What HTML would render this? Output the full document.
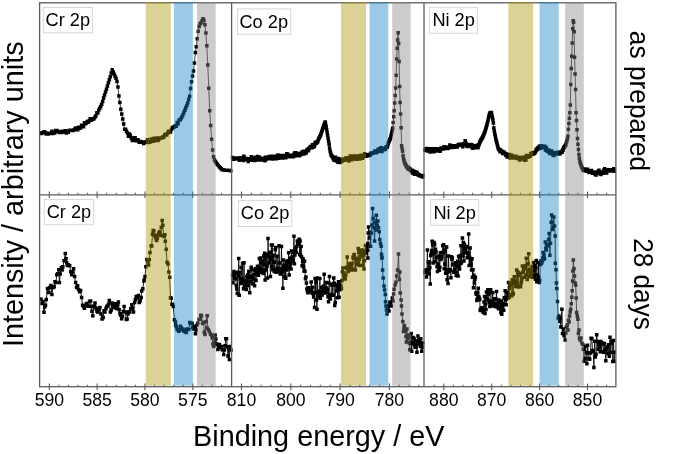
<!DOCTYPE html>
<html><head><meta charset="utf-8"><title>XPS spectra</title>
<style>html,body{margin:0;padding:0;background:#fff;width:685px;height:454px;overflow:hidden;position:relative}
svg text{font-family:"Liberation Sans",sans-serif;fill:#000}
svg{will-change:transform}</style></head>
<body>
<svg width="685" height="454" viewBox="0 0 685 454" style="position:absolute;left:0;top:0">
<rect width="685" height="454" fill="#fff"/>
<defs>
<clipPath id="cT"><rect x="39.6" y="2.8" width="576.3" height="192.0"/></clipPath>
<clipPath id="cB"><rect x="39.6" y="194.8" width="576.3" height="191.9"/></clipPath>
</defs>
<g clip-path="url(#cT)"><path d="M40.50,132.94 L41.46,133.61 L42.41,132.76 L43.37,132.57 L44.32,131.85 L45.28,132.51 L46.24,133.94 L47.19,133.34 L48.15,134.05 L49.10,133.36 L50.06,133.58 L51.02,133.18 L51.97,131.14 L52.93,133.47 L53.88,132.93 L54.84,132.73 L55.80,130.51 L56.75,130.46 L57.71,131.31 L58.66,131.73 L59.62,132.51 L60.58,132.07 L61.53,132.51 L62.49,131.21 L63.44,132.03 L64.40,131.98 L65.36,130.80 L66.31,133.09 L67.27,131.83 L68.22,132.37 L69.18,130.46 L70.14,130.21 L71.09,130.28 L72.05,130.20 L73.00,130.61 L73.96,129.90 L74.92,128.88 L75.87,128.08 L76.83,128.23 L77.78,129.69 L78.74,127.37 L79.70,128.14 L80.65,127.77 L81.61,125.18 L82.56,126.05 L83.52,126.64 L84.48,122.65 L85.43,123.63 L86.39,123.08 L87.34,121.61 L88.30,122.16 L89.26,120.83 L90.21,118.68 L91.17,120.27 L92.12,119.41 L93.08,118.99 L94.04,118.79 L94.99,117.01 L95.95,115.71 L96.90,112.64 L97.86,112.89 L98.82,110.00 L99.77,108.27 L100.73,106.47 L101.68,104.22 L102.64,101.41 L103.60,97.96 L104.55,94.88 L105.51,92.08 L106.46,89.28 L107.42,86.12 L108.38,82.67 L109.33,79.64 L110.29,76.82 L111.24,73.11 L112.20,69.64 L113.16,71.96 L114.11,74.24 L115.07,76.28 L116.02,78.32 L116.98,81.61 L117.94,87.07 L118.89,96.05 L119.85,102.60 L120.80,109.32 L121.76,114.10 L122.72,118.88 L123.67,123.95 L124.63,129.34 L125.58,129.37 L126.54,131.14 L127.50,133.06 L128.45,136.36 L129.41,134.08 L130.36,135.61 L131.32,138.26 L132.28,140.42 L133.23,139.93 L134.19,137.81 L135.14,137.68 L136.10,140.78 L137.06,139.90 L138.01,139.73 L138.97,142.04 L139.92,142.36 L140.88,141.61 L141.84,141.88 L142.79,142.26 L143.75,143.39 L144.70,142.23 L145.66,141.95 L146.62,141.80 L147.57,139.63 L148.53,142.48 L149.48,142.16 L150.44,141.73 L151.40,138.96 L152.35,140.02 L153.31,141.21 L154.26,138.27 L155.22,139.60 L156.18,140.52 L157.13,137.89 L158.09,140.49 L159.04,139.05 L160.00,137.96 L160.96,138.05 L161.91,137.90 L162.87,136.78 L163.82,137.23 L164.78,134.83 L165.74,134.32 L166.69,134.92 L167.65,133.05 L168.60,131.29 L169.56,132.33 L170.52,132.08 L171.47,129.40 L172.43,127.58 L173.38,127.84 L174.34,126.84 L175.30,125.71 L176.25,126.23 L177.21,122.62 L178.16,123.72 L179.12,120.01 L180.08,120.10 L181.03,118.49 L181.99,116.66 L182.94,114.72 L183.90,112.44 L184.86,110.16 L185.81,107.87 L186.77,105.56 L187.72,103.00 L188.68,99.56 L189.64,96.13 L190.59,88.44 L191.55,81.78 L192.50,76.08 L193.46,70.93 L194.42,62.94 L195.37,52.56 L196.33,46.86 L197.28,38.66 L198.24,31.14 L199.20,26.48 L200.15,23.72 L201.11,22.76 L202.06,20.66 L203.02,18.64 L203.98,20.40 L204.93,24.68 L205.89,32.93 L206.84,45.83 L207.80,65.10 L208.76,88.17 L209.71,110.87 L210.67,125.58 L211.62,139.17 L212.58,150.03 L213.54,156.75 L214.49,159.92 L215.45,161.47 L216.40,162.91 L217.36,164.34 L218.32,165.58 L219.27,166.75 L220.23,167.83 L221.18,168.78 L222.14,169.63 L223.10,169.83 L224.05,170.04 L225.01,170.20 L225.96,170.20 L226.92,170.20 L227.88,170.27 L228.83,170.44 L229.79,170.61 L230.74,170.70" fill="none" stroke="#000" stroke-width="0.75" stroke-linejoin="round"/><path d="M38.75,131.19h3.50v3.50h-3.50zM39.71,131.86h3.50v3.50h-3.50zM40.66,131.01h3.50v3.50h-3.50zM41.62,130.82h3.50v3.50h-3.50zM42.57,130.10h3.50v3.50h-3.50zM43.53,130.76h3.50v3.50h-3.50zM44.49,132.19h3.50v3.50h-3.50zM45.44,131.59h3.50v3.50h-3.50zM46.40,132.30h3.50v3.50h-3.50zM47.35,131.61h3.50v3.50h-3.50zM48.31,131.83h3.50v3.50h-3.50zM49.27,131.43h3.50v3.50h-3.50zM50.22,129.39h3.50v3.50h-3.50zM51.18,131.72h3.50v3.50h-3.50zM52.13,131.18h3.50v3.50h-3.50zM53.09,130.98h3.50v3.50h-3.50zM54.05,128.76h3.50v3.50h-3.50zM55.00,128.71h3.50v3.50h-3.50zM55.96,129.56h3.50v3.50h-3.50zM56.91,129.98h3.50v3.50h-3.50zM57.87,130.76h3.50v3.50h-3.50zM58.83,130.32h3.50v3.50h-3.50zM59.78,130.76h3.50v3.50h-3.50zM60.74,129.46h3.50v3.50h-3.50zM61.69,130.28h3.50v3.50h-3.50zM62.65,130.23h3.50v3.50h-3.50zM63.61,129.05h3.50v3.50h-3.50zM64.56,131.34h3.50v3.50h-3.50zM65.52,130.08h3.50v3.50h-3.50zM66.47,130.62h3.50v3.50h-3.50zM67.43,128.71h3.50v3.50h-3.50zM68.39,128.46h3.50v3.50h-3.50zM69.34,128.53h3.50v3.50h-3.50zM70.30,128.45h3.50v3.50h-3.50zM71.25,128.86h3.50v3.50h-3.50zM72.21,128.15h3.50v3.50h-3.50zM73.17,127.13h3.50v3.50h-3.50zM74.12,126.33h3.50v3.50h-3.50zM75.08,126.48h3.50v3.50h-3.50zM76.03,127.94h3.50v3.50h-3.50zM76.99,125.62h3.50v3.50h-3.50zM77.95,126.39h3.50v3.50h-3.50zM78.90,126.02h3.50v3.50h-3.50zM79.86,123.43h3.50v3.50h-3.50zM80.81,124.30h3.50v3.50h-3.50zM81.77,124.89h3.50v3.50h-3.50zM82.73,120.90h3.50v3.50h-3.50zM83.68,121.88h3.50v3.50h-3.50zM84.64,121.33h3.50v3.50h-3.50zM85.59,119.86h3.50v3.50h-3.50zM86.55,120.41h3.50v3.50h-3.50zM87.51,119.08h3.50v3.50h-3.50zM88.46,116.93h3.50v3.50h-3.50zM89.42,118.52h3.50v3.50h-3.50zM90.37,117.66h3.50v3.50h-3.50zM91.33,117.24h3.50v3.50h-3.50zM92.29,117.04h3.50v3.50h-3.50zM93.24,115.26h3.50v3.50h-3.50zM94.20,113.96h3.50v3.50h-3.50zM95.15,110.89h3.50v3.50h-3.50zM96.11,111.14h3.50v3.50h-3.50zM97.07,108.25h3.50v3.50h-3.50zM98.02,106.52h3.50v3.50h-3.50zM98.98,104.72h3.50v3.50h-3.50zM99.93,102.47h3.50v3.50h-3.50zM100.89,99.66h3.50v3.50h-3.50zM101.85,96.21h3.50v3.50h-3.50zM102.80,93.13h3.50v3.50h-3.50zM103.76,90.33h3.50v3.50h-3.50zM104.71,87.53h3.50v3.50h-3.50zM105.67,84.37h3.50v3.50h-3.50zM106.63,80.92h3.50v3.50h-3.50zM107.58,77.89h3.50v3.50h-3.50zM108.54,75.07h3.50v3.50h-3.50zM109.49,71.36h3.50v3.50h-3.50zM110.45,67.89h3.50v3.50h-3.50zM111.41,70.21h3.50v3.50h-3.50zM112.36,72.49h3.50v3.50h-3.50zM113.32,74.53h3.50v3.50h-3.50zM114.27,76.57h3.50v3.50h-3.50zM115.23,79.86h3.50v3.50h-3.50zM116.19,85.32h3.50v3.50h-3.50zM117.14,94.30h3.50v3.50h-3.50zM118.10,100.85h3.50v3.50h-3.50zM119.05,107.57h3.50v3.50h-3.50zM120.01,112.35h3.50v3.50h-3.50zM120.97,117.13h3.50v3.50h-3.50zM121.92,122.20h3.50v3.50h-3.50zM122.88,127.59h3.50v3.50h-3.50zM123.83,127.62h3.50v3.50h-3.50zM124.79,129.39h3.50v3.50h-3.50zM125.75,131.31h3.50v3.50h-3.50zM126.70,134.61h3.50v3.50h-3.50zM127.66,132.33h3.50v3.50h-3.50zM128.61,133.86h3.50v3.50h-3.50zM129.57,136.51h3.50v3.50h-3.50zM130.53,138.67h3.50v3.50h-3.50zM131.48,138.18h3.50v3.50h-3.50zM132.44,136.06h3.50v3.50h-3.50zM133.39,135.93h3.50v3.50h-3.50zM134.35,139.03h3.50v3.50h-3.50zM135.31,138.15h3.50v3.50h-3.50zM136.26,137.98h3.50v3.50h-3.50zM137.22,140.29h3.50v3.50h-3.50zM138.17,140.61h3.50v3.50h-3.50zM139.13,139.86h3.50v3.50h-3.50zM140.09,140.13h3.50v3.50h-3.50zM141.04,140.51h3.50v3.50h-3.50zM142.00,141.64h3.50v3.50h-3.50zM142.95,140.48h3.50v3.50h-3.50zM143.91,140.20h3.50v3.50h-3.50zM144.87,140.05h3.50v3.50h-3.50zM145.82,137.88h3.50v3.50h-3.50zM146.78,140.73h3.50v3.50h-3.50zM147.73,140.41h3.50v3.50h-3.50zM148.69,139.98h3.50v3.50h-3.50zM149.65,137.21h3.50v3.50h-3.50zM150.60,138.27h3.50v3.50h-3.50zM151.56,139.46h3.50v3.50h-3.50zM152.51,136.52h3.50v3.50h-3.50zM153.47,137.85h3.50v3.50h-3.50zM154.43,138.77h3.50v3.50h-3.50zM155.38,136.14h3.50v3.50h-3.50zM156.34,138.74h3.50v3.50h-3.50zM157.29,137.30h3.50v3.50h-3.50zM158.25,136.21h3.50v3.50h-3.50zM159.21,136.30h3.50v3.50h-3.50zM160.16,136.15h3.50v3.50h-3.50zM161.12,135.03h3.50v3.50h-3.50zM162.07,135.48h3.50v3.50h-3.50zM163.03,133.08h3.50v3.50h-3.50zM163.99,132.57h3.50v3.50h-3.50zM164.94,133.17h3.50v3.50h-3.50zM165.90,131.30h3.50v3.50h-3.50zM166.85,129.54h3.50v3.50h-3.50zM167.81,130.58h3.50v3.50h-3.50zM168.77,130.33h3.50v3.50h-3.50zM169.72,127.65h3.50v3.50h-3.50zM170.68,125.83h3.50v3.50h-3.50zM171.63,126.09h3.50v3.50h-3.50zM172.59,125.09h3.50v3.50h-3.50zM173.55,123.96h3.50v3.50h-3.50zM174.50,124.48h3.50v3.50h-3.50zM175.46,120.87h3.50v3.50h-3.50zM176.41,121.97h3.50v3.50h-3.50zM177.37,118.26h3.50v3.50h-3.50zM178.33,118.35h3.50v3.50h-3.50zM179.28,116.74h3.50v3.50h-3.50zM180.24,114.91h3.50v3.50h-3.50zM181.19,112.97h3.50v3.50h-3.50zM182.15,110.69h3.50v3.50h-3.50zM183.11,108.41h3.50v3.50h-3.50zM184.06,106.12h3.50v3.50h-3.50zM185.02,103.81h3.50v3.50h-3.50zM185.97,101.25h3.50v3.50h-3.50zM186.93,97.81h3.50v3.50h-3.50zM187.89,94.38h3.50v3.50h-3.50zM188.84,86.69h3.50v3.50h-3.50zM189.80,80.03h3.50v3.50h-3.50zM190.75,74.33h3.50v3.50h-3.50zM191.71,69.18h3.50v3.50h-3.50zM192.67,61.19h3.50v3.50h-3.50zM193.62,50.81h3.50v3.50h-3.50zM194.58,45.11h3.50v3.50h-3.50zM195.53,36.91h3.50v3.50h-3.50zM196.49,29.39h3.50v3.50h-3.50zM197.45,24.73h3.50v3.50h-3.50zM198.40,21.97h3.50v3.50h-3.50zM199.36,21.01h3.50v3.50h-3.50zM200.31,18.91h3.50v3.50h-3.50zM201.27,16.89h3.50v3.50h-3.50zM202.23,18.65h3.50v3.50h-3.50zM203.18,22.93h3.50v3.50h-3.50zM204.14,31.18h3.50v3.50h-3.50zM205.09,44.08h3.50v3.50h-3.50zM206.05,63.35h3.50v3.50h-3.50zM207.01,86.42h3.50v3.50h-3.50zM207.96,109.12h3.50v3.50h-3.50zM208.92,123.83h3.50v3.50h-3.50zM209.87,137.42h3.50v3.50h-3.50zM210.83,148.28h3.50v3.50h-3.50zM211.79,155.00h3.50v3.50h-3.50zM212.74,158.17h3.50v3.50h-3.50zM213.70,159.72h3.50v3.50h-3.50zM214.65,161.16h3.50v3.50h-3.50zM215.61,162.59h3.50v3.50h-3.50zM216.57,163.83h3.50v3.50h-3.50zM217.52,165.00h3.50v3.50h-3.50zM218.48,166.08h3.50v3.50h-3.50zM219.43,167.03h3.50v3.50h-3.50zM220.39,167.88h3.50v3.50h-3.50zM221.35,168.08h3.50v3.50h-3.50zM222.30,168.29h3.50v3.50h-3.50zM223.26,168.45h3.50v3.50h-3.50zM224.21,168.45h3.50v3.50h-3.50zM225.17,168.45h3.50v3.50h-3.50zM226.13,168.52h3.50v3.50h-3.50zM227.08,168.69h3.50v3.50h-3.50zM228.04,168.86h3.50v3.50h-3.50zM228.99,168.95h3.50v3.50h-3.50z" fill="#000"/><path d="M232.50,157.41 L232.99,158.83 L233.49,159.33 L233.98,159.06 L234.47,158.55 L234.96,158.34 L235.46,158.35 L235.95,158.78 L236.44,158.02 L236.94,158.48 L237.43,158.77 L237.92,158.20 L238.42,158.96 L238.91,158.77 L239.40,160.21 L239.89,158.52 L240.39,157.80 L240.88,157.91 L241.37,158.33 L241.87,159.33 L242.36,158.13 L242.85,158.92 L243.35,160.43 L243.84,156.25 L244.33,157.59 L244.82,159.02 L245.32,159.24 L245.81,159.14 L246.30,158.53 L246.80,159.68 L247.29,159.37 L247.78,158.63 L248.28,161.61 L248.77,159.63 L249.26,158.74 L249.75,159.17 L250.25,159.03 L250.74,159.17 L251.23,156.81 L251.73,158.71 L252.22,160.18 L252.71,157.99 L253.21,159.07 L253.70,160.07 L254.19,159.95 L254.68,160.57 L255.18,157.36 L255.67,158.69 L256.16,158.68 L256.66,159.62 L257.15,160.07 L257.64,156.56 L258.14,160.03 L258.63,157.47 L259.12,159.59 L259.61,157.37 L260.11,158.99 L260.60,159.96 L261.09,158.56 L261.59,158.86 L262.08,159.41 L262.57,158.71 L263.07,158.43 L263.56,160.01 L264.05,159.47 L264.54,158.08 L265.04,160.73 L265.53,157.13 L266.02,159.15 L266.52,157.92 L267.01,158.27 L267.50,158.79 L268.00,158.26 L268.49,158.63 L268.98,156.41 L269.47,156.38 L269.97,158.45 L270.46,156.81 L270.95,156.69 L271.45,156.19 L271.94,158.87 L272.43,158.29 L272.93,158.96 L273.42,156.49 L273.91,157.37 L274.40,156.17 L274.90,158.02 L275.39,158.78 L275.88,156.25 L276.38,158.64 L276.87,158.01 L277.36,156.79 L277.86,154.93 L278.35,158.25 L278.84,156.69 L279.33,156.13 L279.83,157.08 L280.32,157.05 L280.81,158.10 L281.31,155.54 L281.80,157.66 L282.29,157.97 L282.79,157.90 L283.28,156.23 L283.77,155.62 L284.26,157.35 L284.76,156.40 L285.25,156.37 L285.74,157.64 L286.24,155.91 L286.73,153.84 L287.22,155.71 L287.72,154.20 L288.21,156.83 L288.70,156.27 L289.19,155.25 L289.69,155.77 L290.18,156.53 L290.67,155.69 L291.17,156.85 L291.66,155.38 L292.15,156.40 L292.65,156.77 L293.14,156.80 L293.63,154.44 L294.12,155.90 L294.62,153.06 L295.11,153.77 L295.60,152.81 L296.10,155.76 L296.59,153.37 L297.08,154.51 L297.58,154.21 L298.07,154.25 L298.56,153.56 L299.05,154.26 L299.55,155.70 L300.04,153.83 L300.53,154.19 L301.03,154.53 L301.52,153.21 L302.01,152.02 L302.51,152.60 L303.00,154.11 L303.49,151.26 L303.98,152.19 L304.48,153.67 L304.97,153.33 L305.46,152.42 L305.96,153.05 L306.45,151.93 L306.94,150.10 L307.44,149.24 L307.93,149.68 L308.42,150.76 L308.91,148.79 L309.41,147.98 L309.90,147.63 L310.39,146.57 L310.89,147.74 L311.38,146.43 L311.87,147.73 L312.37,144.76 L312.86,147.20 L313.35,145.98 L313.84,144.44 L314.34,146.55 L314.83,144.87 L315.32,142.22 L315.82,142.89 L316.31,143.37 L316.80,141.93 L317.30,142.49 L317.79,141.47 L318.28,139.74 L318.77,138.75 L319.27,137.76 L319.76,136.78 L320.25,135.79 L320.75,134.65 L321.24,133.16 L321.73,131.66 L322.23,130.16 L322.72,128.66 L323.21,127.17 L323.70,125.86 L324.20,124.56 L324.69,123.25 L325.18,121.94 L325.68,124.32 L326.17,126.82 L326.66,129.49 L327.16,132.49 L327.65,135.48 L328.14,138.48 L328.63,141.47 L329.13,144.51 L329.62,148.24 L330.11,150.88 L330.61,152.89 L331.10,154.90 L331.59,155.61 L332.09,156.32 L332.58,157.04 L333.07,158.41 L333.56,158.79 L334.06,160.23 L334.55,159.73 L335.04,159.70 L335.54,157.34 L336.03,160.50 L336.52,161.09 L337.02,159.66 L337.51,159.66 L338.00,162.14 L338.49,158.44 L338.99,160.67 L339.48,162.60 L339.97,159.27 L340.47,160.89 L340.96,162.09 L341.45,160.08 L341.95,160.70 L342.44,160.91 L342.93,158.97 L343.42,159.66 L343.92,159.91 L344.41,160.31 L344.90,159.32 L345.40,159.03 L345.89,158.08 L346.38,158.60 L346.88,159.72 L347.37,158.85 L347.86,157.84 L348.35,157.78 L348.85,160.96 L349.34,159.64 L349.83,159.07 L350.33,155.97 L350.82,158.93 L351.31,158.72 L351.81,159.86 L352.30,158.54 L352.79,157.99 L353.28,158.51 L353.78,155.96 L354.27,158.85 L354.76,158.06 L355.26,156.96 L355.75,158.90 L356.24,159.30 L356.74,156.01 L357.23,156.66 L357.72,157.54 L358.21,157.35 L358.71,156.68 L359.20,156.03 L359.69,159.04 L360.19,157.86 L360.68,155.53 L361.17,155.28 L361.67,158.23 L362.16,157.42 L362.65,158.15 L363.14,157.04 L363.64,155.26 L364.13,156.29 L364.62,153.78 L365.12,155.09 L365.61,155.68 L366.10,156.18 L366.60,154.84 L367.09,155.35 L367.58,155.84 L368.07,155.67 L368.57,155.84 L369.06,155.18 L369.55,154.40 L370.05,155.27 L370.54,154.28 L371.03,153.16 L371.53,153.11 L372.02,153.49 L372.51,153.13 L373.00,153.15 L373.50,152.80 L373.99,152.78 L374.48,152.27 L374.98,150.95 L375.47,152.43 L375.96,152.87 L376.46,152.05 L376.95,151.23 L377.44,151.67 L377.93,150.06 L378.43,148.93 L378.92,150.74 L379.41,149.60 L379.91,151.13 L380.40,149.16 L380.89,147.70 L381.39,148.92 L381.88,151.40 L382.37,149.29 L382.86,148.16 L383.36,148.62 L383.85,149.76 L384.34,149.33 L384.84,148.49 L385.33,149.27 L385.82,147.97 L386.32,146.72 L386.81,146.81 L387.30,147.22 L387.79,145.38 L388.29,143.26 L388.78,142.11 L389.27,140.96 L389.77,139.81 L390.26,138.66 L390.75,136.96 L391.25,134.74 L391.74,132.52 L392.23,130.31 L392.72,127.93 L393.22,122.50 L393.71,116.69 L394.20,110.64 L394.70,102.89 L395.19,95.45 L395.68,88.08 L396.18,75.19 L396.67,59.08 L397.16,48.24 L397.65,39.95 L398.15,32.67 L398.64,43.59 L399.13,61.61 L399.63,86.52 L400.12,102.50 L400.61,114.03 L401.11,127.76 L401.60,145.66 L402.09,148.38 L402.58,151.34 L403.08,155.67 L403.57,159.09 L404.06,160.80 L404.56,162.50 L405.05,163.65 L405.54,164.58 L406.04,165.50 L406.53,166.42 L407.02,167.31 L407.51,167.62 L408.01,168.95 L408.50,167.15 L408.99,168.39 L409.49,169.57 L409.98,168.85 L410.47,170.52 L410.97,170.35 L411.46,170.97 L411.95,170.16 L412.44,173.08 L412.94,172.22 L413.43,171.07 L413.92,171.69 L414.42,174.30 L414.91,171.87 L415.40,173.39 L415.90,173.80 L416.39,173.14 L416.88,172.24 L417.37,173.87 L417.87,174.31 L418.36,175.35 L418.85,175.28 L419.35,174.79 L419.84,175.89 L420.33,175.85 L420.83,175.79 L421.32,175.91 L421.81,175.88 L422.30,177.08 L422.80,175.55" fill="none" stroke="#000" stroke-width="0.75" stroke-linejoin="round"/><path d="M230.75,155.66h3.50v3.50h-3.50zM231.24,157.08h3.50v3.50h-3.50zM231.74,157.58h3.50v3.50h-3.50zM232.23,157.31h3.50v3.50h-3.50zM232.72,156.80h3.50v3.50h-3.50zM233.21,156.59h3.50v3.50h-3.50zM233.71,156.60h3.50v3.50h-3.50zM234.20,157.03h3.50v3.50h-3.50zM234.69,156.27h3.50v3.50h-3.50zM235.19,156.73h3.50v3.50h-3.50zM235.68,157.02h3.50v3.50h-3.50zM236.17,156.45h3.50v3.50h-3.50zM236.67,157.21h3.50v3.50h-3.50zM237.16,157.02h3.50v3.50h-3.50zM237.65,158.46h3.50v3.50h-3.50zM238.14,156.77h3.50v3.50h-3.50zM238.64,156.05h3.50v3.50h-3.50zM239.13,156.16h3.50v3.50h-3.50zM239.62,156.58h3.50v3.50h-3.50zM240.12,157.58h3.50v3.50h-3.50zM240.61,156.38h3.50v3.50h-3.50zM241.10,157.17h3.50v3.50h-3.50zM241.60,158.68h3.50v3.50h-3.50zM242.09,154.50h3.50v3.50h-3.50zM242.58,155.84h3.50v3.50h-3.50zM243.07,157.27h3.50v3.50h-3.50zM243.57,157.49h3.50v3.50h-3.50zM244.06,157.39h3.50v3.50h-3.50zM244.55,156.78h3.50v3.50h-3.50zM245.05,157.93h3.50v3.50h-3.50zM245.54,157.62h3.50v3.50h-3.50zM246.03,156.88h3.50v3.50h-3.50zM246.53,159.86h3.50v3.50h-3.50zM247.02,157.88h3.50v3.50h-3.50zM247.51,156.99h3.50v3.50h-3.50zM248.00,157.42h3.50v3.50h-3.50zM248.50,157.28h3.50v3.50h-3.50zM248.99,157.42h3.50v3.50h-3.50zM249.48,155.06h3.50v3.50h-3.50zM249.98,156.96h3.50v3.50h-3.50zM250.47,158.43h3.50v3.50h-3.50zM250.96,156.24h3.50v3.50h-3.50zM251.46,157.32h3.50v3.50h-3.50zM251.95,158.32h3.50v3.50h-3.50zM252.44,158.20h3.50v3.50h-3.50zM252.93,158.82h3.50v3.50h-3.50zM253.43,155.61h3.50v3.50h-3.50zM253.92,156.94h3.50v3.50h-3.50zM254.41,156.93h3.50v3.50h-3.50zM254.91,157.87h3.50v3.50h-3.50zM255.40,158.32h3.50v3.50h-3.50zM255.89,154.81h3.50v3.50h-3.50zM256.39,158.28h3.50v3.50h-3.50zM256.88,155.72h3.50v3.50h-3.50zM257.37,157.84h3.50v3.50h-3.50zM257.86,155.62h3.50v3.50h-3.50zM258.36,157.24h3.50v3.50h-3.50zM258.85,158.21h3.50v3.50h-3.50zM259.34,156.81h3.50v3.50h-3.50zM259.84,157.11h3.50v3.50h-3.50zM260.33,157.66h3.50v3.50h-3.50zM260.82,156.96h3.50v3.50h-3.50zM261.32,156.68h3.50v3.50h-3.50zM261.81,158.26h3.50v3.50h-3.50zM262.30,157.72h3.50v3.50h-3.50zM262.79,156.33h3.50v3.50h-3.50zM263.29,158.98h3.50v3.50h-3.50zM263.78,155.38h3.50v3.50h-3.50zM264.27,157.40h3.50v3.50h-3.50zM264.77,156.17h3.50v3.50h-3.50zM265.26,156.52h3.50v3.50h-3.50zM265.75,157.04h3.50v3.50h-3.50zM266.25,156.51h3.50v3.50h-3.50zM266.74,156.88h3.50v3.50h-3.50zM267.23,154.66h3.50v3.50h-3.50zM267.72,154.63h3.50v3.50h-3.50zM268.22,156.70h3.50v3.50h-3.50zM268.71,155.06h3.50v3.50h-3.50zM269.20,154.94h3.50v3.50h-3.50zM269.70,154.44h3.50v3.50h-3.50zM270.19,157.12h3.50v3.50h-3.50zM270.68,156.54h3.50v3.50h-3.50zM271.18,157.21h3.50v3.50h-3.50zM271.67,154.74h3.50v3.50h-3.50zM272.16,155.62h3.50v3.50h-3.50zM272.65,154.42h3.50v3.50h-3.50zM273.15,156.27h3.50v3.50h-3.50zM273.64,157.03h3.50v3.50h-3.50zM274.13,154.50h3.50v3.50h-3.50zM274.63,156.89h3.50v3.50h-3.50zM275.12,156.26h3.50v3.50h-3.50zM275.61,155.04h3.50v3.50h-3.50zM276.11,153.18h3.50v3.50h-3.50zM276.60,156.50h3.50v3.50h-3.50zM277.09,154.94h3.50v3.50h-3.50zM277.58,154.38h3.50v3.50h-3.50zM278.08,155.33h3.50v3.50h-3.50zM278.57,155.30h3.50v3.50h-3.50zM279.06,156.35h3.50v3.50h-3.50zM279.56,153.79h3.50v3.50h-3.50zM280.05,155.91h3.50v3.50h-3.50zM280.54,156.22h3.50v3.50h-3.50zM281.04,156.15h3.50v3.50h-3.50zM281.53,154.48h3.50v3.50h-3.50zM282.02,153.87h3.50v3.50h-3.50zM282.51,155.60h3.50v3.50h-3.50zM283.01,154.65h3.50v3.50h-3.50zM283.50,154.62h3.50v3.50h-3.50zM283.99,155.89h3.50v3.50h-3.50zM284.49,154.16h3.50v3.50h-3.50zM284.98,152.09h3.50v3.50h-3.50zM285.47,153.96h3.50v3.50h-3.50zM285.97,152.45h3.50v3.50h-3.50zM286.46,155.08h3.50v3.50h-3.50zM286.95,154.52h3.50v3.50h-3.50zM287.44,153.50h3.50v3.50h-3.50zM287.94,154.02h3.50v3.50h-3.50zM288.43,154.78h3.50v3.50h-3.50zM288.92,153.94h3.50v3.50h-3.50zM289.42,155.10h3.50v3.50h-3.50zM289.91,153.63h3.50v3.50h-3.50zM290.40,154.65h3.50v3.50h-3.50zM290.90,155.02h3.50v3.50h-3.50zM291.39,155.05h3.50v3.50h-3.50zM291.88,152.69h3.50v3.50h-3.50zM292.37,154.15h3.50v3.50h-3.50zM292.87,151.31h3.50v3.50h-3.50zM293.36,152.02h3.50v3.50h-3.50zM293.85,151.06h3.50v3.50h-3.50zM294.35,154.01h3.50v3.50h-3.50zM294.84,151.62h3.50v3.50h-3.50zM295.33,152.76h3.50v3.50h-3.50zM295.83,152.46h3.50v3.50h-3.50zM296.32,152.50h3.50v3.50h-3.50zM296.81,151.81h3.50v3.50h-3.50zM297.30,152.51h3.50v3.50h-3.50zM297.80,153.95h3.50v3.50h-3.50zM298.29,152.08h3.50v3.50h-3.50zM298.78,152.44h3.50v3.50h-3.50zM299.28,152.78h3.50v3.50h-3.50zM299.77,151.46h3.50v3.50h-3.50zM300.26,150.27h3.50v3.50h-3.50zM300.76,150.85h3.50v3.50h-3.50zM301.25,152.36h3.50v3.50h-3.50zM301.74,149.51h3.50v3.50h-3.50zM302.23,150.44h3.50v3.50h-3.50zM302.73,151.92h3.50v3.50h-3.50zM303.22,151.58h3.50v3.50h-3.50zM303.71,150.67h3.50v3.50h-3.50zM304.21,151.30h3.50v3.50h-3.50zM304.70,150.18h3.50v3.50h-3.50zM305.19,148.35h3.50v3.50h-3.50zM305.69,147.49h3.50v3.50h-3.50zM306.18,147.93h3.50v3.50h-3.50zM306.67,149.01h3.50v3.50h-3.50zM307.16,147.04h3.50v3.50h-3.50zM307.66,146.23h3.50v3.50h-3.50zM308.15,145.88h3.50v3.50h-3.50zM308.64,144.82h3.50v3.50h-3.50zM309.14,145.99h3.50v3.50h-3.50zM309.63,144.68h3.50v3.50h-3.50zM310.12,145.98h3.50v3.50h-3.50zM310.62,143.01h3.50v3.50h-3.50zM311.11,145.45h3.50v3.50h-3.50zM311.60,144.23h3.50v3.50h-3.50zM312.09,142.69h3.50v3.50h-3.50zM312.59,144.80h3.50v3.50h-3.50zM313.08,143.12h3.50v3.50h-3.50zM313.57,140.47h3.50v3.50h-3.50zM314.07,141.14h3.50v3.50h-3.50zM314.56,141.62h3.50v3.50h-3.50zM315.05,140.18h3.50v3.50h-3.50zM315.55,140.74h3.50v3.50h-3.50zM316.04,139.72h3.50v3.50h-3.50zM316.53,137.99h3.50v3.50h-3.50zM317.02,137.00h3.50v3.50h-3.50zM317.52,136.01h3.50v3.50h-3.50zM318.01,135.03h3.50v3.50h-3.50zM318.50,134.04h3.50v3.50h-3.50zM319.00,132.90h3.50v3.50h-3.50zM319.49,131.41h3.50v3.50h-3.50zM319.98,129.91h3.50v3.50h-3.50zM320.48,128.41h3.50v3.50h-3.50zM320.97,126.91h3.50v3.50h-3.50zM321.46,125.42h3.50v3.50h-3.50zM321.95,124.11h3.50v3.50h-3.50zM322.45,122.81h3.50v3.50h-3.50zM322.94,121.50h3.50v3.50h-3.50zM323.43,120.19h3.50v3.50h-3.50zM323.93,122.57h3.50v3.50h-3.50zM324.42,125.07h3.50v3.50h-3.50zM324.91,127.74h3.50v3.50h-3.50zM325.41,130.74h3.50v3.50h-3.50zM325.90,133.73h3.50v3.50h-3.50zM326.39,136.73h3.50v3.50h-3.50zM326.88,139.72h3.50v3.50h-3.50zM327.38,142.76h3.50v3.50h-3.50zM327.87,146.49h3.50v3.50h-3.50zM328.36,149.13h3.50v3.50h-3.50zM328.86,151.14h3.50v3.50h-3.50zM329.35,153.15h3.50v3.50h-3.50zM329.84,153.86h3.50v3.50h-3.50zM330.34,154.57h3.50v3.50h-3.50zM330.83,155.29h3.50v3.50h-3.50zM331.32,156.66h3.50v3.50h-3.50zM331.81,157.04h3.50v3.50h-3.50zM332.31,158.48h3.50v3.50h-3.50zM332.80,157.98h3.50v3.50h-3.50zM333.29,157.95h3.50v3.50h-3.50zM333.79,155.59h3.50v3.50h-3.50zM334.28,158.75h3.50v3.50h-3.50zM334.77,159.34h3.50v3.50h-3.50zM335.27,157.91h3.50v3.50h-3.50zM335.76,157.91h3.50v3.50h-3.50zM336.25,160.39h3.50v3.50h-3.50zM336.74,156.69h3.50v3.50h-3.50zM337.24,158.92h3.50v3.50h-3.50zM337.73,160.85h3.50v3.50h-3.50zM338.22,157.52h3.50v3.50h-3.50zM338.72,159.14h3.50v3.50h-3.50zM339.21,160.34h3.50v3.50h-3.50zM339.70,158.33h3.50v3.50h-3.50zM340.20,158.95h3.50v3.50h-3.50zM340.69,159.16h3.50v3.50h-3.50zM341.18,157.22h3.50v3.50h-3.50zM341.67,157.91h3.50v3.50h-3.50zM342.17,158.16h3.50v3.50h-3.50zM342.66,158.56h3.50v3.50h-3.50zM343.15,157.57h3.50v3.50h-3.50zM343.65,157.28h3.50v3.50h-3.50zM344.14,156.33h3.50v3.50h-3.50zM344.63,156.85h3.50v3.50h-3.50zM345.13,157.97h3.50v3.50h-3.50zM345.62,157.10h3.50v3.50h-3.50zM346.11,156.09h3.50v3.50h-3.50zM346.60,156.03h3.50v3.50h-3.50zM347.10,159.21h3.50v3.50h-3.50zM347.59,157.89h3.50v3.50h-3.50zM348.08,157.32h3.50v3.50h-3.50zM348.58,154.22h3.50v3.50h-3.50zM349.07,157.18h3.50v3.50h-3.50zM349.56,156.97h3.50v3.50h-3.50zM350.06,158.11h3.50v3.50h-3.50zM350.55,156.79h3.50v3.50h-3.50zM351.04,156.24h3.50v3.50h-3.50zM351.53,156.76h3.50v3.50h-3.50zM352.03,154.21h3.50v3.50h-3.50zM352.52,157.10h3.50v3.50h-3.50zM353.01,156.31h3.50v3.50h-3.50zM353.51,155.21h3.50v3.50h-3.50zM354.00,157.15h3.50v3.50h-3.50zM354.49,157.55h3.50v3.50h-3.50zM354.99,154.26h3.50v3.50h-3.50zM355.48,154.91h3.50v3.50h-3.50zM355.97,155.79h3.50v3.50h-3.50zM356.46,155.60h3.50v3.50h-3.50zM356.96,154.93h3.50v3.50h-3.50zM357.45,154.28h3.50v3.50h-3.50zM357.94,157.29h3.50v3.50h-3.50zM358.44,156.11h3.50v3.50h-3.50zM358.93,153.78h3.50v3.50h-3.50zM359.42,153.53h3.50v3.50h-3.50zM359.92,156.48h3.50v3.50h-3.50zM360.41,155.67h3.50v3.50h-3.50zM360.90,156.40h3.50v3.50h-3.50zM361.39,155.29h3.50v3.50h-3.50zM361.89,153.51h3.50v3.50h-3.50zM362.38,154.54h3.50v3.50h-3.50zM362.87,152.03h3.50v3.50h-3.50zM363.37,153.34h3.50v3.50h-3.50zM363.86,153.93h3.50v3.50h-3.50zM364.35,154.43h3.50v3.50h-3.50zM364.85,153.09h3.50v3.50h-3.50zM365.34,153.60h3.50v3.50h-3.50zM365.83,154.09h3.50v3.50h-3.50zM366.32,153.92h3.50v3.50h-3.50zM366.82,154.09h3.50v3.50h-3.50zM367.31,153.43h3.50v3.50h-3.50zM367.80,152.65h3.50v3.50h-3.50zM368.30,153.52h3.50v3.50h-3.50zM368.79,152.53h3.50v3.50h-3.50zM369.28,151.41h3.50v3.50h-3.50zM369.78,151.36h3.50v3.50h-3.50zM370.27,151.74h3.50v3.50h-3.50zM370.76,151.38h3.50v3.50h-3.50zM371.25,151.40h3.50v3.50h-3.50zM371.75,151.05h3.50v3.50h-3.50zM372.24,151.03h3.50v3.50h-3.50zM372.73,150.52h3.50v3.50h-3.50zM373.23,149.20h3.50v3.50h-3.50zM373.72,150.68h3.50v3.50h-3.50zM374.21,151.12h3.50v3.50h-3.50zM374.71,150.30h3.50v3.50h-3.50zM375.20,149.48h3.50v3.50h-3.50zM375.69,149.92h3.50v3.50h-3.50zM376.18,148.31h3.50v3.50h-3.50zM376.68,147.18h3.50v3.50h-3.50zM377.17,148.99h3.50v3.50h-3.50zM377.66,147.85h3.50v3.50h-3.50zM378.16,149.38h3.50v3.50h-3.50zM378.65,147.41h3.50v3.50h-3.50zM379.14,145.95h3.50v3.50h-3.50zM379.64,147.17h3.50v3.50h-3.50zM380.13,149.65h3.50v3.50h-3.50zM380.62,147.54h3.50v3.50h-3.50zM381.11,146.41h3.50v3.50h-3.50zM381.61,146.87h3.50v3.50h-3.50zM382.10,148.01h3.50v3.50h-3.50zM382.59,147.58h3.50v3.50h-3.50zM383.09,146.74h3.50v3.50h-3.50zM383.58,147.52h3.50v3.50h-3.50zM384.07,146.22h3.50v3.50h-3.50zM384.57,144.97h3.50v3.50h-3.50zM385.06,145.06h3.50v3.50h-3.50zM385.55,145.47h3.50v3.50h-3.50zM386.04,143.63h3.50v3.50h-3.50zM386.54,141.51h3.50v3.50h-3.50zM387.03,140.36h3.50v3.50h-3.50zM387.52,139.21h3.50v3.50h-3.50zM388.02,138.06h3.50v3.50h-3.50zM388.51,136.91h3.50v3.50h-3.50zM389.00,135.21h3.50v3.50h-3.50zM389.50,132.99h3.50v3.50h-3.50zM389.99,130.77h3.50v3.50h-3.50zM390.48,128.56h3.50v3.50h-3.50zM390.97,126.18h3.50v3.50h-3.50zM391.47,120.75h3.50v3.50h-3.50zM391.96,114.94h3.50v3.50h-3.50zM392.45,108.89h3.50v3.50h-3.50zM392.95,101.14h3.50v3.50h-3.50zM393.44,93.70h3.50v3.50h-3.50zM393.93,86.33h3.50v3.50h-3.50zM394.43,73.44h3.50v3.50h-3.50zM394.92,57.33h3.50v3.50h-3.50zM395.41,46.49h3.50v3.50h-3.50zM395.90,38.20h3.50v3.50h-3.50zM396.40,30.92h3.50v3.50h-3.50zM396.89,41.84h3.50v3.50h-3.50zM397.38,59.86h3.50v3.50h-3.50zM397.88,84.77h3.50v3.50h-3.50zM398.37,100.75h3.50v3.50h-3.50zM398.86,112.28h3.50v3.50h-3.50zM399.36,126.01h3.50v3.50h-3.50zM399.85,143.91h3.50v3.50h-3.50zM400.34,146.63h3.50v3.50h-3.50zM400.83,149.59h3.50v3.50h-3.50zM401.33,153.92h3.50v3.50h-3.50zM401.82,157.34h3.50v3.50h-3.50zM402.31,159.05h3.50v3.50h-3.50zM402.81,160.75h3.50v3.50h-3.50zM403.30,161.90h3.50v3.50h-3.50zM403.79,162.83h3.50v3.50h-3.50zM404.29,163.75h3.50v3.50h-3.50zM404.78,164.67h3.50v3.50h-3.50zM405.27,165.56h3.50v3.50h-3.50zM405.76,165.87h3.50v3.50h-3.50zM406.26,167.20h3.50v3.50h-3.50zM406.75,165.40h3.50v3.50h-3.50zM407.24,166.64h3.50v3.50h-3.50zM407.74,167.82h3.50v3.50h-3.50zM408.23,167.10h3.50v3.50h-3.50zM408.72,168.77h3.50v3.50h-3.50zM409.22,168.60h3.50v3.50h-3.50zM409.71,169.22h3.50v3.50h-3.50zM410.20,168.41h3.50v3.50h-3.50zM410.69,171.33h3.50v3.50h-3.50zM411.19,170.47h3.50v3.50h-3.50zM411.68,169.32h3.50v3.50h-3.50zM412.17,169.94h3.50v3.50h-3.50zM412.67,172.55h3.50v3.50h-3.50zM413.16,170.12h3.50v3.50h-3.50zM413.65,171.64h3.50v3.50h-3.50zM414.15,172.05h3.50v3.50h-3.50zM414.64,171.39h3.50v3.50h-3.50zM415.13,170.49h3.50v3.50h-3.50zM415.62,172.12h3.50v3.50h-3.50zM416.12,172.56h3.50v3.50h-3.50zM416.61,173.60h3.50v3.50h-3.50zM417.10,173.53h3.50v3.50h-3.50zM417.60,173.04h3.50v3.50h-3.50zM418.09,174.14h3.50v3.50h-3.50zM418.58,174.10h3.50v3.50h-3.50zM419.08,174.04h3.50v3.50h-3.50zM419.57,174.16h3.50v3.50h-3.50zM420.06,174.13h3.50v3.50h-3.50zM420.55,175.33h3.50v3.50h-3.50zM421.05,173.80h3.50v3.50h-3.50z" fill="#000"/><path d="M425.00,150.05 L425.48,150.62 L425.96,149.10 L426.43,150.07 L426.91,148.43 L427.39,149.70 L427.87,150.89 L428.35,150.83 L428.82,150.15 L429.30,149.92 L429.78,148.70 L430.26,152.01 L430.74,150.77 L431.21,151.42 L431.69,149.52 L432.17,150.29 L432.65,148.73 L433.13,151.40 L433.60,151.63 L434.08,148.87 L434.56,150.71 L435.04,151.32 L435.52,148.86 L435.99,148.72 L436.47,149.41 L436.95,149.78 L437.43,148.93 L437.91,150.29 L438.38,150.44 L438.86,150.75 L439.34,150.68 L439.82,151.32 L440.30,150.81 L440.77,148.17 L441.25,148.81 L441.73,148.09 L442.21,147.91 L442.69,148.74 L443.16,148.66 L443.64,148.98 L444.12,146.83 L444.60,147.11 L445.08,148.25 L445.55,148.00 L446.03,147.82 L446.51,147.99 L446.99,147.22 L447.47,148.61 L447.94,148.19 L448.42,147.67 L448.90,147.01 L449.38,147.42 L449.86,145.11 L450.33,146.45 L450.81,147.38 L451.29,145.76 L451.77,147.38 L452.25,147.24 L452.72,145.64 L453.20,146.68 L453.68,146.53 L454.16,147.22 L454.64,147.29 L455.11,146.56 L455.59,145.66 L456.07,146.29 L456.55,146.28 L457.03,147.00 L457.50,146.46 L457.98,145.29 L458.46,144.51 L458.94,145.34 L459.42,144.82 L459.89,144.29 L460.37,145.14 L460.85,144.61 L461.33,145.05 L461.81,145.32 L462.28,144.19 L462.76,146.67 L463.24,143.77 L463.72,144.94 L464.20,143.70 L464.67,144.44 L465.15,140.75 L465.63,142.62 L466.11,143.87 L466.59,144.47 L467.06,146.45 L467.54,144.68 L468.02,145.89 L468.50,145.56 L468.98,145.90 L469.45,145.62 L469.93,145.11 L470.41,145.93 L470.89,144.50 L471.37,146.91 L471.84,144.87 L472.32,146.29 L472.80,148.32 L473.28,146.10 L473.76,146.47 L474.23,147.75 L474.71,146.55 L475.19,145.63 L475.67,146.60 L476.15,146.84 L476.62,146.88 L477.10,145.31 L477.58,147.74 L478.06,147.57 L478.54,145.83 L479.01,144.59 L479.49,143.19 L479.97,141.79 L480.45,140.93 L480.93,140.10 L481.40,139.28 L481.88,138.46 L482.36,137.63 L482.84,136.81 L483.32,135.68 L483.79,134.51 L484.27,133.34 L484.75,132.17 L485.23,130.71 L485.71,129.11 L486.18,127.52 L486.66,125.77 L487.14,123.89 L487.62,122.01 L488.10,119.92 L488.57,117.53 L489.05,115.51 L489.53,114.30 L490.01,113.09 L490.49,112.60 L490.96,112.60 L491.44,112.80 L491.92,115.13 L492.40,117.46 L492.88,119.78 L493.35,123.08 L493.83,128.07 L494.31,131.08 L494.79,133.73 L495.27,136.08 L495.74,138.43 L496.22,140.39 L496.70,142.30 L497.18,144.21 L497.66,146.12 L498.13,148.04 L498.61,148.98 L499.09,149.68 L499.57,149.42 L500.05,151.70 L500.52,150.01 L501.00,151.82 L501.48,151.10 L501.96,151.13 L502.44,152.78 L502.91,153.62 L503.39,152.51 L503.87,152.08 L504.35,153.80 L504.83,153.17 L505.30,153.77 L505.78,155.21 L506.26,155.18 L506.74,153.89 L507.22,157.06 L507.69,155.14 L508.17,156.29 L508.65,155.21 L509.13,155.97 L509.61,154.39 L510.08,158.06 L510.56,157.76 L511.04,155.31 L511.52,155.15 L512.00,155.16 L512.47,158.09 L512.95,156.58 L513.43,157.11 L513.91,156.98 L514.39,157.30 L514.86,156.42 L515.34,157.63 L515.82,156.27 L516.30,157.73 L516.78,158.20 L517.25,158.46 L517.73,157.85 L518.21,157.28 L518.69,158.44 L519.17,157.89 L519.64,160.03 L520.12,159.24 L520.60,158.31 L521.08,157.91 L521.56,157.64 L522.03,157.36 L522.51,157.90 L522.99,158.50 L523.47,158.68 L523.95,158.69 L524.42,160.18 L524.90,157.33 L525.38,157.97 L525.86,160.12 L526.34,155.61 L526.81,156.71 L527.29,157.16 L527.77,156.90 L528.25,156.91 L528.73,156.02 L529.20,156.38 L529.68,155.82 L530.16,156.30 L530.64,153.39 L531.12,154.08 L531.59,154.60 L532.07,153.21 L532.55,152.84 L533.03,154.16 L533.51,152.52 L533.98,153.45 L534.46,153.20 L534.94,152.40 L535.42,152.12 L535.90,150.87 L536.37,148.93 L536.85,149.67 L537.33,149.51 L537.81,147.89 L538.29,147.69 L538.76,148.12 L539.24,146.26 L539.72,147.55 L540.20,148.54 L540.68,145.89 L541.15,146.36 L541.63,145.83 L542.11,147.65 L542.59,146.74 L543.07,147.64 L543.54,146.37 L544.02,147.37 L544.50,147.69 L544.98,146.24 L545.46,149.90 L545.93,149.83 L546.41,147.66 L546.89,150.63 L547.37,150.24 L547.85,151.29 L548.32,151.69 L548.80,150.05 L549.28,151.51 L549.76,153.39 L550.24,151.49 L550.71,151.22 L551.19,151.06 L551.67,151.37 L552.15,153.10 L552.63,154.63 L553.10,153.47 L553.58,153.35 L554.06,155.41 L554.54,152.72 L555.02,152.63 L555.49,153.90 L555.97,153.98 L556.45,152.48 L556.93,152.39 L557.41,153.88 L557.88,153.82 L558.36,152.25 L558.84,153.34 L559.32,152.98 L559.80,153.97 L560.27,153.01 L560.75,152.38 L561.23,151.45 L561.71,152.20 L562.19,151.88 L562.66,149.46 L563.14,149.95 L563.62,147.57 L564.10,147.54 L564.58,146.76 L565.05,145.98 L565.53,145.20 L566.01,144.17 L566.49,142.28 L566.97,140.39 L567.44,138.50 L567.92,136.37 L568.40,129.20 L568.88,123.49 L569.36,118.16 L569.83,112.66 L570.31,105.10 L570.79,84.46 L571.27,68.55 L571.75,56.19 L572.22,42.91 L572.70,28.80 L573.18,20.83 L573.66,22.33 L574.14,31.66 L574.61,57.31 L575.09,74.12 L575.57,89.52 L576.05,112.84 L576.53,120.44 L577.00,129.85 L577.48,138.41 L577.96,144.34 L578.44,149.55 L578.92,154.42 L579.39,158.19 L579.87,161.62 L580.35,163.05 L580.83,164.48 L581.31,165.92 L581.78,167.35 L582.26,167.95 L582.74,169.12 L583.22,170.38 L583.70,168.98 L584.17,169.78 L584.65,170.55 L585.13,169.01 L585.61,170.65 L586.09,170.08 L586.56,171.26 L587.04,169.88 L587.52,169.16 L588.00,171.30 L588.48,171.64 L588.95,170.96 L589.43,172.52 L589.91,171.48 L590.39,171.26 L590.87,172.46 L591.34,170.53 L591.82,171.54 L592.30,172.32 L592.78,173.30 L593.26,172.41 L593.73,173.00 L594.21,172.15 L594.69,173.19 L595.17,174.50 L595.65,172.09 L596.12,175.08 L596.60,172.02 L597.08,172.62 L597.56,172.72 L598.04,173.51 L598.51,171.19 L598.99,170.27 L599.47,172.92 L599.95,173.02 L600.43,172.76 L600.90,174.43 L601.38,172.14 L601.86,172.09 L602.34,172.67 L602.82,172.01 L603.29,173.21 L603.77,170.21 L604.25,170.98 L604.73,168.86 L605.21,171.99 L605.68,170.71 L606.16,171.92 L606.64,173.07 L607.12,170.82 L607.60,170.49 L608.07,170.16 L608.55,169.73 L609.03,169.85 L609.51,171.04 L609.99,170.36 L610.46,170.32 L610.94,170.01 L611.42,171.03 L611.90,170.53 L612.38,169.83 L612.85,170.56 L613.33,169.67 L613.81,168.65 L614.29,171.26 L614.77,170.27" fill="none" stroke="#000" stroke-width="0.75" stroke-linejoin="round"/><path d="M423.25,148.30h3.50v3.50h-3.50zM423.73,148.87h3.50v3.50h-3.50zM424.21,147.35h3.50v3.50h-3.50zM424.68,148.32h3.50v3.50h-3.50zM425.16,146.68h3.50v3.50h-3.50zM425.64,147.95h3.50v3.50h-3.50zM426.12,149.14h3.50v3.50h-3.50zM426.60,149.08h3.50v3.50h-3.50zM427.07,148.40h3.50v3.50h-3.50zM427.55,148.17h3.50v3.50h-3.50zM428.03,146.95h3.50v3.50h-3.50zM428.51,150.26h3.50v3.50h-3.50zM428.99,149.02h3.50v3.50h-3.50zM429.46,149.67h3.50v3.50h-3.50zM429.94,147.77h3.50v3.50h-3.50zM430.42,148.54h3.50v3.50h-3.50zM430.90,146.98h3.50v3.50h-3.50zM431.38,149.65h3.50v3.50h-3.50zM431.85,149.88h3.50v3.50h-3.50zM432.33,147.12h3.50v3.50h-3.50zM432.81,148.96h3.50v3.50h-3.50zM433.29,149.57h3.50v3.50h-3.50zM433.77,147.11h3.50v3.50h-3.50zM434.24,146.97h3.50v3.50h-3.50zM434.72,147.66h3.50v3.50h-3.50zM435.20,148.03h3.50v3.50h-3.50zM435.68,147.18h3.50v3.50h-3.50zM436.16,148.54h3.50v3.50h-3.50zM436.63,148.69h3.50v3.50h-3.50zM437.11,149.00h3.50v3.50h-3.50zM437.59,148.93h3.50v3.50h-3.50zM438.07,149.57h3.50v3.50h-3.50zM438.55,149.06h3.50v3.50h-3.50zM439.02,146.42h3.50v3.50h-3.50zM439.50,147.06h3.50v3.50h-3.50zM439.98,146.34h3.50v3.50h-3.50zM440.46,146.16h3.50v3.50h-3.50zM440.94,146.99h3.50v3.50h-3.50zM441.41,146.91h3.50v3.50h-3.50zM441.89,147.23h3.50v3.50h-3.50zM442.37,145.08h3.50v3.50h-3.50zM442.85,145.36h3.50v3.50h-3.50zM443.33,146.50h3.50v3.50h-3.50zM443.80,146.25h3.50v3.50h-3.50zM444.28,146.07h3.50v3.50h-3.50zM444.76,146.24h3.50v3.50h-3.50zM445.24,145.47h3.50v3.50h-3.50zM445.72,146.86h3.50v3.50h-3.50zM446.19,146.44h3.50v3.50h-3.50zM446.67,145.92h3.50v3.50h-3.50zM447.15,145.26h3.50v3.50h-3.50zM447.63,145.67h3.50v3.50h-3.50zM448.11,143.36h3.50v3.50h-3.50zM448.58,144.70h3.50v3.50h-3.50zM449.06,145.63h3.50v3.50h-3.50zM449.54,144.01h3.50v3.50h-3.50zM450.02,145.63h3.50v3.50h-3.50zM450.50,145.49h3.50v3.50h-3.50zM450.97,143.89h3.50v3.50h-3.50zM451.45,144.93h3.50v3.50h-3.50zM451.93,144.78h3.50v3.50h-3.50zM452.41,145.47h3.50v3.50h-3.50zM452.89,145.54h3.50v3.50h-3.50zM453.36,144.81h3.50v3.50h-3.50zM453.84,143.91h3.50v3.50h-3.50zM454.32,144.54h3.50v3.50h-3.50zM454.80,144.53h3.50v3.50h-3.50zM455.28,145.25h3.50v3.50h-3.50zM455.75,144.71h3.50v3.50h-3.50zM456.23,143.54h3.50v3.50h-3.50zM456.71,142.76h3.50v3.50h-3.50zM457.19,143.59h3.50v3.50h-3.50zM457.67,143.07h3.50v3.50h-3.50zM458.14,142.54h3.50v3.50h-3.50zM458.62,143.39h3.50v3.50h-3.50zM459.10,142.86h3.50v3.50h-3.50zM459.58,143.30h3.50v3.50h-3.50zM460.06,143.57h3.50v3.50h-3.50zM460.53,142.44h3.50v3.50h-3.50zM461.01,144.92h3.50v3.50h-3.50zM461.49,142.02h3.50v3.50h-3.50zM461.97,143.19h3.50v3.50h-3.50zM462.45,141.95h3.50v3.50h-3.50zM462.92,142.69h3.50v3.50h-3.50zM463.40,139.00h3.50v3.50h-3.50zM463.88,140.87h3.50v3.50h-3.50zM464.36,142.12h3.50v3.50h-3.50zM464.84,142.72h3.50v3.50h-3.50zM465.31,144.70h3.50v3.50h-3.50zM465.79,142.93h3.50v3.50h-3.50zM466.27,144.14h3.50v3.50h-3.50zM466.75,143.81h3.50v3.50h-3.50zM467.23,144.15h3.50v3.50h-3.50zM467.70,143.87h3.50v3.50h-3.50zM468.18,143.36h3.50v3.50h-3.50zM468.66,144.18h3.50v3.50h-3.50zM469.14,142.75h3.50v3.50h-3.50zM469.62,145.16h3.50v3.50h-3.50zM470.09,143.12h3.50v3.50h-3.50zM470.57,144.54h3.50v3.50h-3.50zM471.05,146.57h3.50v3.50h-3.50zM471.53,144.35h3.50v3.50h-3.50zM472.01,144.72h3.50v3.50h-3.50zM472.48,146.00h3.50v3.50h-3.50zM472.96,144.80h3.50v3.50h-3.50zM473.44,143.88h3.50v3.50h-3.50zM473.92,144.85h3.50v3.50h-3.50zM474.40,145.09h3.50v3.50h-3.50zM474.87,145.13h3.50v3.50h-3.50zM475.35,143.56h3.50v3.50h-3.50zM475.83,145.99h3.50v3.50h-3.50zM476.31,145.82h3.50v3.50h-3.50zM476.79,144.08h3.50v3.50h-3.50zM477.26,142.84h3.50v3.50h-3.50zM477.74,141.44h3.50v3.50h-3.50zM478.22,140.04h3.50v3.50h-3.50zM478.70,139.18h3.50v3.50h-3.50zM479.18,138.35h3.50v3.50h-3.50zM479.65,137.53h3.50v3.50h-3.50zM480.13,136.71h3.50v3.50h-3.50zM480.61,135.88h3.50v3.50h-3.50zM481.09,135.06h3.50v3.50h-3.50zM481.57,133.93h3.50v3.50h-3.50zM482.04,132.76h3.50v3.50h-3.50zM482.52,131.59h3.50v3.50h-3.50zM483.00,130.42h3.50v3.50h-3.50zM483.48,128.96h3.50v3.50h-3.50zM483.96,127.36h3.50v3.50h-3.50zM484.43,125.77h3.50v3.50h-3.50zM484.91,124.02h3.50v3.50h-3.50zM485.39,122.14h3.50v3.50h-3.50zM485.87,120.26h3.50v3.50h-3.50zM486.35,118.17h3.50v3.50h-3.50zM486.82,115.78h3.50v3.50h-3.50zM487.30,113.76h3.50v3.50h-3.50zM487.78,112.55h3.50v3.50h-3.50zM488.26,111.34h3.50v3.50h-3.50zM488.74,110.85h3.50v3.50h-3.50zM489.21,110.85h3.50v3.50h-3.50zM489.69,111.05h3.50v3.50h-3.50zM490.17,113.38h3.50v3.50h-3.50zM490.65,115.71h3.50v3.50h-3.50zM491.13,118.03h3.50v3.50h-3.50zM491.60,121.33h3.50v3.50h-3.50zM492.08,126.32h3.50v3.50h-3.50zM492.56,129.33h3.50v3.50h-3.50zM493.04,131.98h3.50v3.50h-3.50zM493.52,134.33h3.50v3.50h-3.50zM493.99,136.68h3.50v3.50h-3.50zM494.47,138.64h3.50v3.50h-3.50zM494.95,140.55h3.50v3.50h-3.50zM495.43,142.46h3.50v3.50h-3.50zM495.91,144.37h3.50v3.50h-3.50zM496.38,146.29h3.50v3.50h-3.50zM496.86,147.23h3.50v3.50h-3.50zM497.34,147.93h3.50v3.50h-3.50zM497.82,147.67h3.50v3.50h-3.50zM498.30,149.95h3.50v3.50h-3.50zM498.77,148.26h3.50v3.50h-3.50zM499.25,150.07h3.50v3.50h-3.50zM499.73,149.35h3.50v3.50h-3.50zM500.21,149.38h3.50v3.50h-3.50zM500.69,151.03h3.50v3.50h-3.50zM501.16,151.87h3.50v3.50h-3.50zM501.64,150.76h3.50v3.50h-3.50zM502.12,150.33h3.50v3.50h-3.50zM502.60,152.05h3.50v3.50h-3.50zM503.08,151.42h3.50v3.50h-3.50zM503.55,152.02h3.50v3.50h-3.50zM504.03,153.46h3.50v3.50h-3.50zM504.51,153.43h3.50v3.50h-3.50zM504.99,152.14h3.50v3.50h-3.50zM505.47,155.31h3.50v3.50h-3.50zM505.94,153.39h3.50v3.50h-3.50zM506.42,154.54h3.50v3.50h-3.50zM506.90,153.46h3.50v3.50h-3.50zM507.38,154.22h3.50v3.50h-3.50zM507.86,152.64h3.50v3.50h-3.50zM508.33,156.31h3.50v3.50h-3.50zM508.81,156.01h3.50v3.50h-3.50zM509.29,153.56h3.50v3.50h-3.50zM509.77,153.40h3.50v3.50h-3.50zM510.25,153.41h3.50v3.50h-3.50zM510.72,156.34h3.50v3.50h-3.50zM511.20,154.83h3.50v3.50h-3.50zM511.68,155.36h3.50v3.50h-3.50zM512.16,155.23h3.50v3.50h-3.50zM512.64,155.55h3.50v3.50h-3.50zM513.11,154.67h3.50v3.50h-3.50zM513.59,155.88h3.50v3.50h-3.50zM514.07,154.52h3.50v3.50h-3.50zM514.55,155.98h3.50v3.50h-3.50zM515.03,156.45h3.50v3.50h-3.50zM515.50,156.71h3.50v3.50h-3.50zM515.98,156.10h3.50v3.50h-3.50zM516.46,155.53h3.50v3.50h-3.50zM516.94,156.69h3.50v3.50h-3.50zM517.42,156.14h3.50v3.50h-3.50zM517.89,158.28h3.50v3.50h-3.50zM518.37,157.49h3.50v3.50h-3.50zM518.85,156.56h3.50v3.50h-3.50zM519.33,156.16h3.50v3.50h-3.50zM519.81,155.89h3.50v3.50h-3.50zM520.28,155.61h3.50v3.50h-3.50zM520.76,156.15h3.50v3.50h-3.50zM521.24,156.75h3.50v3.50h-3.50zM521.72,156.93h3.50v3.50h-3.50zM522.20,156.94h3.50v3.50h-3.50zM522.67,158.43h3.50v3.50h-3.50zM523.15,155.58h3.50v3.50h-3.50zM523.63,156.22h3.50v3.50h-3.50zM524.11,158.37h3.50v3.50h-3.50zM524.59,153.86h3.50v3.50h-3.50zM525.06,154.96h3.50v3.50h-3.50zM525.54,155.41h3.50v3.50h-3.50zM526.02,155.15h3.50v3.50h-3.50zM526.50,155.16h3.50v3.50h-3.50zM526.98,154.27h3.50v3.50h-3.50zM527.45,154.63h3.50v3.50h-3.50zM527.93,154.07h3.50v3.50h-3.50zM528.41,154.55h3.50v3.50h-3.50zM528.89,151.64h3.50v3.50h-3.50zM529.37,152.33h3.50v3.50h-3.50zM529.84,152.85h3.50v3.50h-3.50zM530.32,151.46h3.50v3.50h-3.50zM530.80,151.09h3.50v3.50h-3.50zM531.28,152.41h3.50v3.50h-3.50zM531.76,150.77h3.50v3.50h-3.50zM532.23,151.70h3.50v3.50h-3.50zM532.71,151.45h3.50v3.50h-3.50zM533.19,150.65h3.50v3.50h-3.50zM533.67,150.37h3.50v3.50h-3.50zM534.15,149.12h3.50v3.50h-3.50zM534.62,147.18h3.50v3.50h-3.50zM535.10,147.92h3.50v3.50h-3.50zM535.58,147.76h3.50v3.50h-3.50zM536.06,146.14h3.50v3.50h-3.50zM536.54,145.94h3.50v3.50h-3.50zM537.01,146.37h3.50v3.50h-3.50zM537.49,144.51h3.50v3.50h-3.50zM537.97,145.80h3.50v3.50h-3.50zM538.45,146.79h3.50v3.50h-3.50zM538.93,144.14h3.50v3.50h-3.50zM539.40,144.61h3.50v3.50h-3.50zM539.88,144.08h3.50v3.50h-3.50zM540.36,145.90h3.50v3.50h-3.50zM540.84,144.99h3.50v3.50h-3.50zM541.32,145.89h3.50v3.50h-3.50zM541.79,144.62h3.50v3.50h-3.50zM542.27,145.62h3.50v3.50h-3.50zM542.75,145.94h3.50v3.50h-3.50zM543.23,144.49h3.50v3.50h-3.50zM543.71,148.15h3.50v3.50h-3.50zM544.18,148.08h3.50v3.50h-3.50zM544.66,145.91h3.50v3.50h-3.50zM545.14,148.88h3.50v3.50h-3.50zM545.62,148.49h3.50v3.50h-3.50zM546.10,149.54h3.50v3.50h-3.50zM546.57,149.94h3.50v3.50h-3.50zM547.05,148.30h3.50v3.50h-3.50zM547.53,149.76h3.50v3.50h-3.50zM548.01,151.64h3.50v3.50h-3.50zM548.49,149.74h3.50v3.50h-3.50zM548.96,149.47h3.50v3.50h-3.50zM549.44,149.31h3.50v3.50h-3.50zM549.92,149.62h3.50v3.50h-3.50zM550.40,151.35h3.50v3.50h-3.50zM550.88,152.88h3.50v3.50h-3.50zM551.35,151.72h3.50v3.50h-3.50zM551.83,151.60h3.50v3.50h-3.50zM552.31,153.66h3.50v3.50h-3.50zM552.79,150.97h3.50v3.50h-3.50zM553.27,150.88h3.50v3.50h-3.50zM553.74,152.15h3.50v3.50h-3.50zM554.22,152.23h3.50v3.50h-3.50zM554.70,150.73h3.50v3.50h-3.50zM555.18,150.64h3.50v3.50h-3.50zM555.66,152.13h3.50v3.50h-3.50zM556.13,152.07h3.50v3.50h-3.50zM556.61,150.50h3.50v3.50h-3.50zM557.09,151.59h3.50v3.50h-3.50zM557.57,151.23h3.50v3.50h-3.50zM558.05,152.22h3.50v3.50h-3.50zM558.52,151.26h3.50v3.50h-3.50zM559.00,150.63h3.50v3.50h-3.50zM559.48,149.70h3.50v3.50h-3.50zM559.96,150.45h3.50v3.50h-3.50zM560.44,150.13h3.50v3.50h-3.50zM560.91,147.71h3.50v3.50h-3.50zM561.39,148.20h3.50v3.50h-3.50zM561.87,145.82h3.50v3.50h-3.50zM562.35,145.79h3.50v3.50h-3.50zM562.83,145.01h3.50v3.50h-3.50zM563.30,144.23h3.50v3.50h-3.50zM563.78,143.45h3.50v3.50h-3.50zM564.26,142.42h3.50v3.50h-3.50zM564.74,140.53h3.50v3.50h-3.50zM565.22,138.64h3.50v3.50h-3.50zM565.69,136.75h3.50v3.50h-3.50zM566.17,134.62h3.50v3.50h-3.50zM566.65,127.45h3.50v3.50h-3.50zM567.13,121.74h3.50v3.50h-3.50zM567.61,116.41h3.50v3.50h-3.50zM568.08,110.91h3.50v3.50h-3.50zM568.56,103.35h3.50v3.50h-3.50zM569.04,82.71h3.50v3.50h-3.50zM569.52,66.80h3.50v3.50h-3.50zM570.00,54.44h3.50v3.50h-3.50zM570.47,41.16h3.50v3.50h-3.50zM570.95,27.05h3.50v3.50h-3.50zM571.43,19.08h3.50v3.50h-3.50zM571.91,20.58h3.50v3.50h-3.50zM572.39,29.91h3.50v3.50h-3.50zM572.86,55.56h3.50v3.50h-3.50zM573.34,72.37h3.50v3.50h-3.50zM573.82,87.77h3.50v3.50h-3.50zM574.30,111.09h3.50v3.50h-3.50zM574.78,118.69h3.50v3.50h-3.50zM575.25,128.10h3.50v3.50h-3.50zM575.73,136.66h3.50v3.50h-3.50zM576.21,142.59h3.50v3.50h-3.50zM576.69,147.80h3.50v3.50h-3.50zM577.17,152.67h3.50v3.50h-3.50zM577.64,156.44h3.50v3.50h-3.50zM578.12,159.87h3.50v3.50h-3.50zM578.60,161.30h3.50v3.50h-3.50zM579.08,162.73h3.50v3.50h-3.50zM579.56,164.17h3.50v3.50h-3.50zM580.03,165.60h3.50v3.50h-3.50zM580.51,166.20h3.50v3.50h-3.50zM580.99,167.37h3.50v3.50h-3.50zM581.47,168.63h3.50v3.50h-3.50zM581.95,167.23h3.50v3.50h-3.50zM582.42,168.03h3.50v3.50h-3.50zM582.90,168.80h3.50v3.50h-3.50zM583.38,167.26h3.50v3.50h-3.50zM583.86,168.90h3.50v3.50h-3.50zM584.34,168.33h3.50v3.50h-3.50zM584.81,169.51h3.50v3.50h-3.50zM585.29,168.13h3.50v3.50h-3.50zM585.77,167.41h3.50v3.50h-3.50zM586.25,169.55h3.50v3.50h-3.50zM586.73,169.89h3.50v3.50h-3.50zM587.20,169.21h3.50v3.50h-3.50zM587.68,170.77h3.50v3.50h-3.50zM588.16,169.73h3.50v3.50h-3.50zM588.64,169.51h3.50v3.50h-3.50zM589.12,170.71h3.50v3.50h-3.50zM589.59,168.78h3.50v3.50h-3.50zM590.07,169.79h3.50v3.50h-3.50zM590.55,170.57h3.50v3.50h-3.50zM591.03,171.55h3.50v3.50h-3.50zM591.51,170.66h3.50v3.50h-3.50zM591.98,171.25h3.50v3.50h-3.50zM592.46,170.40h3.50v3.50h-3.50zM592.94,171.44h3.50v3.50h-3.50zM593.42,172.75h3.50v3.50h-3.50zM593.90,170.34h3.50v3.50h-3.50zM594.37,173.33h3.50v3.50h-3.50zM594.85,170.27h3.50v3.50h-3.50zM595.33,170.87h3.50v3.50h-3.50zM595.81,170.97h3.50v3.50h-3.50zM596.29,171.76h3.50v3.50h-3.50zM596.76,169.44h3.50v3.50h-3.50zM597.24,168.52h3.50v3.50h-3.50zM597.72,171.17h3.50v3.50h-3.50zM598.20,171.27h3.50v3.50h-3.50zM598.68,171.01h3.50v3.50h-3.50zM599.15,172.68h3.50v3.50h-3.50zM599.63,170.39h3.50v3.50h-3.50zM600.11,170.34h3.50v3.50h-3.50zM600.59,170.92h3.50v3.50h-3.50zM601.07,170.26h3.50v3.50h-3.50zM601.54,171.46h3.50v3.50h-3.50zM602.02,168.46h3.50v3.50h-3.50zM602.50,169.23h3.50v3.50h-3.50zM602.98,167.11h3.50v3.50h-3.50zM603.46,170.24h3.50v3.50h-3.50zM603.93,168.96h3.50v3.50h-3.50zM604.41,170.17h3.50v3.50h-3.50zM604.89,171.32h3.50v3.50h-3.50zM605.37,169.07h3.50v3.50h-3.50zM605.85,168.74h3.50v3.50h-3.50zM606.32,168.41h3.50v3.50h-3.50zM606.80,167.98h3.50v3.50h-3.50zM607.28,168.10h3.50v3.50h-3.50zM607.76,169.29h3.50v3.50h-3.50zM608.24,168.61h3.50v3.50h-3.50zM608.71,168.57h3.50v3.50h-3.50zM609.19,168.26h3.50v3.50h-3.50zM609.67,169.28h3.50v3.50h-3.50zM610.15,168.78h3.50v3.50h-3.50zM610.63,168.08h3.50v3.50h-3.50zM611.10,168.81h3.50v3.50h-3.50zM611.58,167.92h3.50v3.50h-3.50zM612.06,166.90h3.50v3.50h-3.50zM612.54,169.51h3.50v3.50h-3.50zM613.02,168.52h3.50v3.50h-3.50z" fill="#000"/></g>
<g clip-path="url(#cB)"><path d="M40.50,299.00 L41.00,299.40 L42.00,303.40 L43.00,301.40 L44.00,312.30 L44.75,307.08 L45.50,305.30 L46.30,299.40 L47.50,288.50 L48.20,292.44 L48.90,292.50 L49.90,287.50 L50.90,285.50 L51.90,294.50 L52.90,287.50 L53.55,287.62 L54.20,286.50 L55.00,281.73 L55.80,282.60 L56.80,274.70 L57.80,273.70 L58.80,269.70 L59.40,282.60 L60.20,274.10 L61.40,267.70 L62.10,270.10 L62.80,266.70 L64.10,260.80 L65.30,253.50 L66.00,258.75 L66.70,262.80 L67.40,265.40 L68.10,264.80 L68.90,265.61 L69.70,265.70 L70.70,271.70 L71.70,274.70 L72.65,271.43 L73.60,268.70 L74.60,276.60 L75.60,282.60 L76.60,287.50 L77.60,285.71 L78.60,289.50 L79.60,291.75 L80.60,290.50 L81.60,297.40 L82.60,305.30 L83.55,306.85 L84.50,308.30 L85.50,305.33 L86.50,303.40 L87.50,305.48 L88.50,306.30 L89.50,301.40 L90.60,300.90 L91.10,306.40 L91.95,311.24 L92.80,315.80 L93.40,306.30 L94.20,305.92 L95.00,303.10 L95.50,307.50 L96.25,308.73 L97.00,311.30 L97.70,311.90 L98.80,309.63 L99.90,307.50 L101.00,314.10 L102.10,319.10 L103.20,317.40 L104.05,310.80 L104.90,311.90 L106.00,308.60 L106.80,306.49 L107.60,305.90 L108.45,304.37 L109.30,300.40 L110.40,311.90 L111.20,309.91 L112.00,303.10 L112.85,304.64 L113.70,307.50 L114.50,305.38 L115.30,303.70 L116.15,308.45 L117.00,307.50 L117.70,304.16 L118.40,302.00 L119.20,309.70 L120.00,313.77 L120.80,315.20 L121.65,318.77 L122.50,316.30 L123.30,311.42 L124.10,306.40 L125.20,311.90 L126.30,319.60 L127.15,319.06 L128.00,314.10 L128.80,311.72 L129.60,311.90 L130.70,308.72 L131.80,304.80 L132.65,308.21 L133.50,311.90 L134.60,302.60 L135.40,299.76 L136.20,296.50 L137.30,297.98 L138.40,295.40 L139.25,302.45 L140.10,300.90 L141.20,297.60 L141.70,291.00 L142.80,288.80 L143.90,281.10 L144.20,279.90 L145.00,276.40 L145.90,266.80 L146.80,259.60 L147.70,261.21 L148.60,264.90 L149.30,259.65 L150.00,252.60 L151.20,245.70 L151.70,246.10 L152.50,234.30 L153.15,230.60 L153.80,230.70 L154.70,235.14 L155.60,237.80 L156.50,240.40 L157.35,238.58 L158.20,234.70 L158.90,232.65 L159.60,231.60 L160.25,234.56 L160.90,235.60 L161.30,227.20 L162.20,220.60 L162.85,225.31 L163.50,235.60 L164.20,236.52 L164.90,234.70 L165.30,241.30 L166.20,249.30 L167.10,262.30 L168.00,264.10 L168.80,272.00 L169.70,277.30 L170.50,297.70 L171.15,298.22 L171.80,304.30 L172.55,304.15 L173.30,306.50 L174.40,319.70 L175.50,321.90 L175.60,325.20 L176.35,326.40 L177.10,329.60 L177.95,329.73 L178.80,331.30 L179.60,330.35 L180.40,326.30 L181.25,327.85 L182.10,329.10 L182.90,329.18 L183.70,330.70 L184.55,331.43 L185.40,330.20 L186.20,332.50 L187.00,329.10 L187.85,329.36 L188.70,329.60 L189.80,322.50 L190.60,323.41 L191.40,323.00 L192.10,323.60 L192.50,327.40 L193.35,329.08 L194.20,326.30 L195.00,327.90 L195.40,333.70 L196.15,329.93 L196.90,325.20 L197.90,322.90 L199.10,319.20 L200.00,319.30 L200.75,315.19 L201.50,315.70 L202.55,323.43 L203.60,322.20 L204.30,332.28 L205.00,334.40 L206.10,321.48 L207.20,315.70 L207.30,327.90 L208.30,329.63 L209.30,331.50 L210.40,334.05 L211.50,335.10 L212.20,338.00 L212.90,343.99 L213.60,346.50 L214.35,342.00 L215.10,335.10 L215.80,338.91 L216.50,343.70 L217.20,344.65 L217.90,349.40 L218.65,347.09 L219.40,344.40 L220.10,347.71 L220.80,347.30 L221.50,346.39 L222.20,349.40 L222.95,350.05 L223.70,354.40 L224.40,350.06 L225.10,345.80 L225.80,338.76 L226.50,338.70 L227.25,346.83 L228.00,355.90 L228.70,348.00 L229.40,359.40 L230.10,346.50 L231.00,350.00" fill="none" stroke="#000" stroke-width="0.90" stroke-linejoin="round"/><path d="M38.75,297.25h3.50v3.50h-3.50zM39.25,297.65h3.50v3.50h-3.50zM40.25,301.65h3.50v3.50h-3.50zM41.25,299.65h3.50v3.50h-3.50zM42.25,310.55h3.50v3.50h-3.50zM43.00,305.33h3.50v3.50h-3.50zM43.75,303.55h3.50v3.50h-3.50zM44.55,297.65h3.50v3.50h-3.50zM45.75,286.75h3.50v3.50h-3.50zM46.45,290.69h3.50v3.50h-3.50zM47.15,290.75h3.50v3.50h-3.50zM48.15,285.75h3.50v3.50h-3.50zM49.15,283.75h3.50v3.50h-3.50zM50.15,292.75h3.50v3.50h-3.50zM51.15,285.75h3.50v3.50h-3.50zM51.80,285.87h3.50v3.50h-3.50zM52.45,284.75h3.50v3.50h-3.50zM53.25,279.98h3.50v3.50h-3.50zM54.05,280.85h3.50v3.50h-3.50zM55.05,272.95h3.50v3.50h-3.50zM56.05,271.95h3.50v3.50h-3.50zM57.05,267.95h3.50v3.50h-3.50zM57.65,280.85h3.50v3.50h-3.50zM58.45,272.35h3.50v3.50h-3.50zM59.65,265.95h3.50v3.50h-3.50zM60.35,268.35h3.50v3.50h-3.50zM61.05,264.95h3.50v3.50h-3.50zM62.35,259.05h3.50v3.50h-3.50zM63.55,251.75h3.50v3.50h-3.50zM64.25,257.00h3.50v3.50h-3.50zM64.95,261.05h3.50v3.50h-3.50zM65.65,263.65h3.50v3.50h-3.50zM66.35,263.05h3.50v3.50h-3.50zM67.15,263.86h3.50v3.50h-3.50zM67.95,263.95h3.50v3.50h-3.50zM68.95,269.95h3.50v3.50h-3.50zM69.95,272.95h3.50v3.50h-3.50zM70.90,269.68h3.50v3.50h-3.50zM71.85,266.95h3.50v3.50h-3.50zM72.85,274.85h3.50v3.50h-3.50zM73.85,280.85h3.50v3.50h-3.50zM74.85,285.75h3.50v3.50h-3.50zM75.85,283.96h3.50v3.50h-3.50zM76.85,287.75h3.50v3.50h-3.50zM77.85,290.00h3.50v3.50h-3.50zM78.85,288.75h3.50v3.50h-3.50zM79.85,295.65h3.50v3.50h-3.50zM80.85,303.55h3.50v3.50h-3.50zM81.80,305.10h3.50v3.50h-3.50zM82.75,306.55h3.50v3.50h-3.50zM83.75,303.58h3.50v3.50h-3.50zM84.75,301.65h3.50v3.50h-3.50zM85.75,303.73h3.50v3.50h-3.50zM86.75,304.55h3.50v3.50h-3.50zM87.75,299.65h3.50v3.50h-3.50zM88.85,299.15h3.50v3.50h-3.50zM89.35,304.65h3.50v3.50h-3.50zM90.20,309.49h3.50v3.50h-3.50zM91.05,314.05h3.50v3.50h-3.50zM91.65,304.55h3.50v3.50h-3.50zM92.45,304.17h3.50v3.50h-3.50zM93.25,301.35h3.50v3.50h-3.50zM93.75,305.75h3.50v3.50h-3.50zM94.50,306.98h3.50v3.50h-3.50zM95.25,309.55h3.50v3.50h-3.50zM95.95,310.15h3.50v3.50h-3.50zM97.05,307.88h3.50v3.50h-3.50zM98.15,305.75h3.50v3.50h-3.50zM99.25,312.35h3.50v3.50h-3.50zM100.35,317.35h3.50v3.50h-3.50zM101.45,315.65h3.50v3.50h-3.50zM102.30,309.05h3.50v3.50h-3.50zM103.15,310.15h3.50v3.50h-3.50zM104.25,306.85h3.50v3.50h-3.50zM105.05,304.74h3.50v3.50h-3.50zM105.85,304.15h3.50v3.50h-3.50zM106.70,302.62h3.50v3.50h-3.50zM107.55,298.65h3.50v3.50h-3.50zM108.65,310.15h3.50v3.50h-3.50zM109.45,308.16h3.50v3.50h-3.50zM110.25,301.35h3.50v3.50h-3.50zM111.10,302.89h3.50v3.50h-3.50zM111.95,305.75h3.50v3.50h-3.50zM112.75,303.63h3.50v3.50h-3.50zM113.55,301.95h3.50v3.50h-3.50zM114.40,306.70h3.50v3.50h-3.50zM115.25,305.75h3.50v3.50h-3.50zM115.95,302.41h3.50v3.50h-3.50zM116.65,300.25h3.50v3.50h-3.50zM117.45,307.95h3.50v3.50h-3.50zM118.25,312.02h3.50v3.50h-3.50zM119.05,313.45h3.50v3.50h-3.50zM119.90,317.02h3.50v3.50h-3.50zM120.75,314.55h3.50v3.50h-3.50zM121.55,309.67h3.50v3.50h-3.50zM122.35,304.65h3.50v3.50h-3.50zM123.45,310.15h3.50v3.50h-3.50zM124.55,317.85h3.50v3.50h-3.50zM125.40,317.31h3.50v3.50h-3.50zM126.25,312.35h3.50v3.50h-3.50zM127.05,309.97h3.50v3.50h-3.50zM127.85,310.15h3.50v3.50h-3.50zM128.95,306.97h3.50v3.50h-3.50zM130.05,303.05h3.50v3.50h-3.50zM130.90,306.46h3.50v3.50h-3.50zM131.75,310.15h3.50v3.50h-3.50zM132.85,300.85h3.50v3.50h-3.50zM133.65,298.01h3.50v3.50h-3.50zM134.45,294.75h3.50v3.50h-3.50zM135.55,296.23h3.50v3.50h-3.50zM136.65,293.65h3.50v3.50h-3.50zM137.50,300.70h3.50v3.50h-3.50zM138.35,299.15h3.50v3.50h-3.50zM139.45,295.85h3.50v3.50h-3.50zM139.95,289.25h3.50v3.50h-3.50zM141.05,287.05h3.50v3.50h-3.50zM142.15,279.35h3.50v3.50h-3.50zM142.45,278.15h3.50v3.50h-3.50zM143.25,274.65h3.50v3.50h-3.50zM144.15,265.05h3.50v3.50h-3.50zM145.05,257.85h3.50v3.50h-3.50zM145.95,259.46h3.50v3.50h-3.50zM146.85,263.15h3.50v3.50h-3.50zM147.55,257.90h3.50v3.50h-3.50zM148.25,250.85h3.50v3.50h-3.50zM149.45,243.95h3.50v3.50h-3.50zM149.95,244.35h3.50v3.50h-3.50zM150.75,232.55h3.50v3.50h-3.50zM151.40,228.85h3.50v3.50h-3.50zM152.05,228.95h3.50v3.50h-3.50zM152.95,233.39h3.50v3.50h-3.50zM153.85,236.05h3.50v3.50h-3.50zM154.75,238.65h3.50v3.50h-3.50zM155.60,236.83h3.50v3.50h-3.50zM156.45,232.95h3.50v3.50h-3.50zM157.15,230.90h3.50v3.50h-3.50zM157.85,229.85h3.50v3.50h-3.50zM158.50,232.81h3.50v3.50h-3.50zM159.15,233.85h3.50v3.50h-3.50zM159.55,225.45h3.50v3.50h-3.50zM160.45,218.85h3.50v3.50h-3.50zM161.10,223.56h3.50v3.50h-3.50zM161.75,233.85h3.50v3.50h-3.50zM162.45,234.77h3.50v3.50h-3.50zM163.15,232.95h3.50v3.50h-3.50zM163.55,239.55h3.50v3.50h-3.50zM164.45,247.55h3.50v3.50h-3.50zM165.35,260.55h3.50v3.50h-3.50zM166.25,262.35h3.50v3.50h-3.50zM167.05,270.25h3.50v3.50h-3.50zM167.95,275.55h3.50v3.50h-3.50zM168.75,295.95h3.50v3.50h-3.50zM169.40,296.47h3.50v3.50h-3.50zM170.05,302.55h3.50v3.50h-3.50zM170.80,302.40h3.50v3.50h-3.50zM171.55,304.75h3.50v3.50h-3.50zM172.65,317.95h3.50v3.50h-3.50zM173.75,320.15h3.50v3.50h-3.50zM173.85,323.45h3.50v3.50h-3.50zM174.60,324.65h3.50v3.50h-3.50zM175.35,327.85h3.50v3.50h-3.50zM176.20,327.98h3.50v3.50h-3.50zM177.05,329.55h3.50v3.50h-3.50zM177.85,328.60h3.50v3.50h-3.50zM178.65,324.55h3.50v3.50h-3.50zM179.50,326.10h3.50v3.50h-3.50zM180.35,327.35h3.50v3.50h-3.50zM181.15,327.43h3.50v3.50h-3.50zM181.95,328.95h3.50v3.50h-3.50zM182.80,329.68h3.50v3.50h-3.50zM183.65,328.45h3.50v3.50h-3.50zM184.45,330.75h3.50v3.50h-3.50zM185.25,327.35h3.50v3.50h-3.50zM186.10,327.61h3.50v3.50h-3.50zM186.95,327.85h3.50v3.50h-3.50zM188.05,320.75h3.50v3.50h-3.50zM188.85,321.66h3.50v3.50h-3.50zM189.65,321.25h3.50v3.50h-3.50zM190.35,321.85h3.50v3.50h-3.50zM190.75,325.65h3.50v3.50h-3.50zM191.60,327.33h3.50v3.50h-3.50zM192.45,324.55h3.50v3.50h-3.50zM193.25,326.15h3.50v3.50h-3.50zM193.65,331.95h3.50v3.50h-3.50zM194.40,328.18h3.50v3.50h-3.50zM195.15,323.45h3.50v3.50h-3.50zM196.15,321.15h3.50v3.50h-3.50zM197.35,317.45h3.50v3.50h-3.50zM198.25,317.55h3.50v3.50h-3.50zM199.00,313.44h3.50v3.50h-3.50zM199.75,313.95h3.50v3.50h-3.50zM200.80,321.68h3.50v3.50h-3.50zM201.85,320.45h3.50v3.50h-3.50zM202.55,330.53h3.50v3.50h-3.50zM203.25,332.65h3.50v3.50h-3.50zM204.35,319.73h3.50v3.50h-3.50zM205.45,313.95h3.50v3.50h-3.50zM205.55,326.15h3.50v3.50h-3.50zM206.55,327.88h3.50v3.50h-3.50zM207.55,329.75h3.50v3.50h-3.50zM208.65,332.30h3.50v3.50h-3.50zM209.75,333.35h3.50v3.50h-3.50zM210.45,336.25h3.50v3.50h-3.50zM211.15,342.24h3.50v3.50h-3.50zM211.85,344.75h3.50v3.50h-3.50zM212.60,340.25h3.50v3.50h-3.50zM213.35,333.35h3.50v3.50h-3.50zM214.05,337.16h3.50v3.50h-3.50zM214.75,341.95h3.50v3.50h-3.50zM215.45,342.90h3.50v3.50h-3.50zM216.15,347.65h3.50v3.50h-3.50zM216.90,345.34h3.50v3.50h-3.50zM217.65,342.65h3.50v3.50h-3.50zM218.35,345.96h3.50v3.50h-3.50zM219.05,345.55h3.50v3.50h-3.50zM219.75,344.64h3.50v3.50h-3.50zM220.45,347.65h3.50v3.50h-3.50zM221.20,348.30h3.50v3.50h-3.50zM221.95,352.65h3.50v3.50h-3.50zM222.65,348.31h3.50v3.50h-3.50zM223.35,344.05h3.50v3.50h-3.50zM224.05,337.01h3.50v3.50h-3.50zM224.75,336.95h3.50v3.50h-3.50zM225.50,345.08h3.50v3.50h-3.50zM226.25,354.15h3.50v3.50h-3.50zM226.95,346.25h3.50v3.50h-3.50zM227.65,357.65h3.50v3.50h-3.50zM228.35,344.75h3.50v3.50h-3.50zM229.25,348.25h3.50v3.50h-3.50z" fill="#000"/><path d="M232.50,275.29 L232.98,282.83 L233.46,273.03 L233.94,271.50 L234.42,275.65 L234.90,278.58 L235.38,273.35 L235.86,279.10 L236.34,285.38 L236.82,289.07 L237.30,293.49 L237.78,272.34 L238.26,275.43 L238.74,258.60 L239.22,295.14 L239.70,272.84 L240.18,278.70 L240.66,283.38 L241.14,267.34 L241.62,282.78 L242.10,278.57 L242.58,263.22 L243.06,281.18 L243.54,288.80 L244.02,262.72 L244.50,285.41 L244.98,280.28 L245.46,282.49 L245.94,282.16 L246.42,289.44 L246.90,276.41 L247.38,285.69 L247.86,274.73 L248.34,284.35 L248.82,271.20 L249.30,277.15 L249.78,292.74 L250.26,281.57 L250.74,276.04 L251.22,267.25 L251.70,269.87 L252.18,277.83 L252.66,283.77 L253.14,279.00 L253.62,279.44 L254.10,274.23 L254.58,285.68 L255.06,270.46 L255.54,268.71 L256.02,280.52 L256.50,272.92 L256.98,269.41 L257.46,266.28 L257.94,268.39 L258.42,275.28 L258.90,272.38 L259.38,258.49 L259.86,271.80 L260.34,268.93 L260.82,258.06 L261.30,272.29 L261.78,262.50 L262.26,261.19 L262.74,269.97 L263.22,273.59 L263.70,255.67 L264.18,264.64 L264.66,253.22 L265.14,280.10 L265.62,255.99 L266.10,270.11 L266.58,254.21 L267.06,266.37 L267.54,278.09 L268.02,238.59 L268.50,255.06 L268.98,262.76 L269.46,257.48 L269.94,252.35 L270.42,276.57 L270.90,259.28 L271.38,244.94 L271.86,266.50 L272.34,244.93 L272.82,269.66 L273.30,255.29 L273.78,261.75 L274.26,271.56 L274.74,262.16 L275.22,249.66 L275.70,247.38 L276.18,272.23 L276.66,268.95 L277.14,256.21 L277.62,270.93 L278.10,268.32 L278.58,270.09 L279.06,245.86 L279.54,262.97 L280.02,273.67 L280.50,272.53 L280.98,274.08 L281.46,246.48 L281.94,268.60 L282.42,271.64 L282.90,288.14 L283.38,259.92 L283.86,265.52 L284.34,268.91 L284.82,276.42 L285.30,265.01 L285.78,278.17 L286.26,261.36 L286.74,269.96 L287.22,262.85 L287.70,268.32 L288.18,260.74 L288.66,252.68 L289.14,274.92 L289.62,266.93 L290.10,258.32 L290.58,263.49 L291.06,268.92 L291.54,250.92 L292.02,257.02 L292.50,261.58 L292.98,260.51 L293.46,252.23 L293.94,236.21 L294.42,263.72 L294.90,254.99 L295.38,251.35 L295.86,247.91 L296.34,252.15 L296.82,246.18 L297.30,240.97 L297.78,243.27 L298.26,244.36 L298.74,244.11 L299.22,239.35 L299.70,254.48 L300.18,241.12 L300.66,255.60 L301.14,246.39 L301.62,256.96 L302.10,265.63 L302.58,261.38 L303.06,258.67 L303.54,267.09 L304.02,271.07 L304.50,261.33 L304.98,271.15 L305.46,278.65 L305.94,277.04 L306.42,283.10 L306.90,288.91 L307.38,290.50 L307.86,292.77 L308.34,292.08 L308.82,287.76 L309.30,290.88 L309.78,290.61 L310.26,291.02 L310.74,291.98 L311.22,282.03 L311.70,291.17 L312.18,293.28 L312.66,287.20 L313.14,293.47 L313.62,297.07 L314.10,292.75 L314.58,307.41 L315.06,278.39 L315.54,292.55 L316.02,281.93 L316.50,300.07 L316.98,309.20 L317.46,277.91 L317.94,294.24 L318.42,296.69 L318.90,291.25 L319.38,296.71 L319.86,278.45 L320.34,298.20 L320.82,294.60 L321.30,291.85 L321.78,287.40 L322.26,294.89 L322.74,287.10 L323.22,291.23 L323.70,285.98 L324.18,274.22 L324.66,288.14 L325.14,289.34 L325.62,293.03 L326.10,282.53 L326.58,288.10 L327.06,292.42 L327.54,289.45 L328.02,296.68 L328.50,301.65 L328.98,282.89 L329.46,276.41 L329.94,294.56 L330.42,299.03 L330.90,295.17 L331.38,294.57 L331.86,285.35 L332.34,284.83 L332.82,295.34 L333.30,283.73 L333.78,277.97 L334.26,283.37 L334.74,305.55 L335.22,302.43 L335.70,285.30 L336.18,284.87 L336.66,290.95 L337.14,284.42 L337.62,297.64 L338.10,288.46 L338.58,281.75 L339.06,297.15 L339.54,284.70 L340.02,289.76 L340.50,288.08 L340.98,285.96 L341.46,288.73 L341.94,280.68 L342.42,271.75 L342.90,267.95 L343.38,272.63 L343.86,274.49 L344.34,277.83 L344.82,276.90 L345.30,278.89 L345.78,274.91 L346.26,267.82 L346.74,267.22 L347.22,256.90 L347.70,268.42 L348.18,271.52 L348.66,270.66 L349.14,265.27 L349.62,263.78 L350.10,269.99 L350.58,263.52 L351.06,267.74 L351.54,266.25 L352.02,263.37 L352.50,269.99 L352.98,257.30 L353.46,258.21 L353.94,254.81 L354.42,254.40 L354.90,269.21 L355.38,270.06 L355.86,258.29 L356.34,261.35 L356.82,264.82 L357.30,262.16 L357.78,264.61 L358.26,248.43 L358.74,252.35 L359.22,259.31 L359.70,265.56 L360.18,256.77 L360.66,250.37 L361.14,253.51 L361.62,251.39 L362.10,249.96 L362.58,265.16 L363.06,251.20 L363.54,255.26 L364.02,268.98 L364.50,260.83 L364.98,253.51 L365.46,245.55 L365.94,250.39 L366.42,252.41 L366.90,246.62 L367.90,258.10 L367.90,250.20 L367.90,243.60 L368.30,233.00 L368.60,227.10 L369.40,238.00 L370.00,232.00 L370.60,246.30 L371.30,233.00 L371.90,225.10 L372.60,208.60 L373.20,218.50 L373.90,227.80 L374.60,241.00 L375.20,222.50 L375.80,230.00 L376.30,215.20 L376.80,221.00 L377.20,225.80 L377.90,221.10 L378.50,227.80 L379.20,231.70 L379.80,239.60 L380.50,243.60 L381.20,246.30 L381.50,254.20 L381.80,258.10 L382.10,257.60 L382.60,270.00 L383.20,277.90 L384.00,286.00 L384.60,290.00 L385.30,294.60 L385.50,301.70 L386.00,306.00 L386.50,310.00 L387.00,314.00 L387.50,309.00 L388.30,306.00 L389.00,311.00 L389.60,304.00 L390.00,302.00 L390.60,303.40 L391.40,306.00 L392.30,298.10 L393.00,301.00 L393.60,294.00 L394.10,289.30 L395.10,285.00 L395.90,282.30 L396.70,276.00 L397.60,270.00 L398.50,254.10 L399.40,279.60 L399.80,272.00 L400.30,292.90 L401.10,300.00 L401.50,306.00 L402.00,314.00 L402.80,321.60 L403.50,331.50 L404.00,328.31 L404.48,325.61 L404.96,330.82 L405.44,330.36 L405.92,336.61 L406.40,342.00 L406.88,328.94 L407.36,336.39 L407.84,338.50 L408.32,335.04 L408.80,336.96 L409.28,343.03 L409.76,349.71 L410.24,343.39 L410.72,342.35 L411.20,333.44 L411.68,351.32 L412.16,342.54 L412.64,342.47 L413.12,337.53 L413.60,343.32 L414.08,338.60 L414.56,344.92 L415.04,347.33 L415.52,345.16 L416.00,346.40 L416.48,340.74 L416.96,352.15 L417.44,341.73 L417.92,335.91 L418.40,344.06 L418.88,341.18 L419.36,339.95 L419.84,343.23 L420.32,346.30 L420.80,338.69 L421.28,343.67 L421.76,351.25 L422.24,347.29 L422.72,342.88" fill="none" stroke="#000" stroke-width="0.85" stroke-linejoin="round"/><path d="M230.75,273.54h3.50v3.50h-3.50zM231.23,281.08h3.50v3.50h-3.50zM231.71,271.28h3.50v3.50h-3.50zM232.19,269.75h3.50v3.50h-3.50zM232.67,273.90h3.50v3.50h-3.50zM233.15,276.83h3.50v3.50h-3.50zM233.63,271.60h3.50v3.50h-3.50zM234.11,277.35h3.50v3.50h-3.50zM234.59,283.63h3.50v3.50h-3.50zM235.07,287.32h3.50v3.50h-3.50zM235.55,291.74h3.50v3.50h-3.50zM236.03,270.59h3.50v3.50h-3.50zM236.51,273.68h3.50v3.50h-3.50zM236.99,256.85h3.50v3.50h-3.50zM237.47,293.39h3.50v3.50h-3.50zM237.95,271.09h3.50v3.50h-3.50zM238.43,276.95h3.50v3.50h-3.50zM238.91,281.63h3.50v3.50h-3.50zM239.39,265.59h3.50v3.50h-3.50zM239.87,281.03h3.50v3.50h-3.50zM240.35,276.82h3.50v3.50h-3.50zM240.83,261.47h3.50v3.50h-3.50zM241.31,279.43h3.50v3.50h-3.50zM241.79,287.05h3.50v3.50h-3.50zM242.27,260.97h3.50v3.50h-3.50zM242.75,283.66h3.50v3.50h-3.50zM243.23,278.53h3.50v3.50h-3.50zM243.71,280.74h3.50v3.50h-3.50zM244.19,280.41h3.50v3.50h-3.50zM244.67,287.69h3.50v3.50h-3.50zM245.15,274.66h3.50v3.50h-3.50zM245.63,283.94h3.50v3.50h-3.50zM246.11,272.98h3.50v3.50h-3.50zM246.59,282.60h3.50v3.50h-3.50zM247.07,269.45h3.50v3.50h-3.50zM247.55,275.40h3.50v3.50h-3.50zM248.03,290.99h3.50v3.50h-3.50zM248.51,279.82h3.50v3.50h-3.50zM248.99,274.29h3.50v3.50h-3.50zM249.47,265.50h3.50v3.50h-3.50zM249.95,268.12h3.50v3.50h-3.50zM250.43,276.08h3.50v3.50h-3.50zM250.91,282.02h3.50v3.50h-3.50zM251.39,277.25h3.50v3.50h-3.50zM251.87,277.69h3.50v3.50h-3.50zM252.35,272.48h3.50v3.50h-3.50zM252.83,283.93h3.50v3.50h-3.50zM253.31,268.71h3.50v3.50h-3.50zM253.79,266.96h3.50v3.50h-3.50zM254.27,278.77h3.50v3.50h-3.50zM254.75,271.17h3.50v3.50h-3.50zM255.23,267.66h3.50v3.50h-3.50zM255.71,264.53h3.50v3.50h-3.50zM256.19,266.64h3.50v3.50h-3.50zM256.67,273.53h3.50v3.50h-3.50zM257.15,270.63h3.50v3.50h-3.50zM257.63,256.74h3.50v3.50h-3.50zM258.11,270.05h3.50v3.50h-3.50zM258.59,267.18h3.50v3.50h-3.50zM259.07,256.31h3.50v3.50h-3.50zM259.55,270.54h3.50v3.50h-3.50zM260.03,260.75h3.50v3.50h-3.50zM260.51,259.44h3.50v3.50h-3.50zM260.99,268.22h3.50v3.50h-3.50zM261.47,271.84h3.50v3.50h-3.50zM261.95,253.92h3.50v3.50h-3.50zM262.43,262.89h3.50v3.50h-3.50zM262.91,251.47h3.50v3.50h-3.50zM263.39,278.35h3.50v3.50h-3.50zM263.87,254.24h3.50v3.50h-3.50zM264.35,268.36h3.50v3.50h-3.50zM264.83,252.46h3.50v3.50h-3.50zM265.31,264.62h3.50v3.50h-3.50zM265.79,276.34h3.50v3.50h-3.50zM266.27,236.84h3.50v3.50h-3.50zM266.75,253.31h3.50v3.50h-3.50zM267.23,261.01h3.50v3.50h-3.50zM267.71,255.73h3.50v3.50h-3.50zM268.19,250.60h3.50v3.50h-3.50zM268.67,274.82h3.50v3.50h-3.50zM269.15,257.53h3.50v3.50h-3.50zM269.63,243.19h3.50v3.50h-3.50zM270.11,264.75h3.50v3.50h-3.50zM270.59,243.18h3.50v3.50h-3.50zM271.07,267.91h3.50v3.50h-3.50zM271.55,253.54h3.50v3.50h-3.50zM272.03,260.00h3.50v3.50h-3.50zM272.51,269.81h3.50v3.50h-3.50zM272.99,260.41h3.50v3.50h-3.50zM273.47,247.91h3.50v3.50h-3.50zM273.95,245.63h3.50v3.50h-3.50zM274.43,270.48h3.50v3.50h-3.50zM274.91,267.20h3.50v3.50h-3.50zM275.39,254.46h3.50v3.50h-3.50zM275.87,269.18h3.50v3.50h-3.50zM276.35,266.57h3.50v3.50h-3.50zM276.83,268.34h3.50v3.50h-3.50zM277.31,244.11h3.50v3.50h-3.50zM277.79,261.22h3.50v3.50h-3.50zM278.27,271.92h3.50v3.50h-3.50zM278.75,270.78h3.50v3.50h-3.50zM279.23,272.33h3.50v3.50h-3.50zM279.71,244.73h3.50v3.50h-3.50zM280.19,266.85h3.50v3.50h-3.50zM280.67,269.89h3.50v3.50h-3.50zM281.15,286.39h3.50v3.50h-3.50zM281.63,258.17h3.50v3.50h-3.50zM282.11,263.77h3.50v3.50h-3.50zM282.59,267.16h3.50v3.50h-3.50zM283.07,274.67h3.50v3.50h-3.50zM283.55,263.26h3.50v3.50h-3.50zM284.03,276.42h3.50v3.50h-3.50zM284.51,259.61h3.50v3.50h-3.50zM284.99,268.21h3.50v3.50h-3.50zM285.47,261.10h3.50v3.50h-3.50zM285.95,266.57h3.50v3.50h-3.50zM286.43,258.99h3.50v3.50h-3.50zM286.91,250.93h3.50v3.50h-3.50zM287.39,273.17h3.50v3.50h-3.50zM287.87,265.18h3.50v3.50h-3.50zM288.35,256.57h3.50v3.50h-3.50zM288.83,261.74h3.50v3.50h-3.50zM289.31,267.17h3.50v3.50h-3.50zM289.79,249.17h3.50v3.50h-3.50zM290.27,255.27h3.50v3.50h-3.50zM290.75,259.83h3.50v3.50h-3.50zM291.23,258.76h3.50v3.50h-3.50zM291.71,250.48h3.50v3.50h-3.50zM292.19,234.46h3.50v3.50h-3.50zM292.67,261.97h3.50v3.50h-3.50zM293.15,253.24h3.50v3.50h-3.50zM293.63,249.60h3.50v3.50h-3.50zM294.11,246.16h3.50v3.50h-3.50zM294.59,250.40h3.50v3.50h-3.50zM295.07,244.43h3.50v3.50h-3.50zM295.55,239.22h3.50v3.50h-3.50zM296.03,241.52h3.50v3.50h-3.50zM296.51,242.61h3.50v3.50h-3.50zM296.99,242.36h3.50v3.50h-3.50zM297.47,237.60h3.50v3.50h-3.50zM297.95,252.73h3.50v3.50h-3.50zM298.43,239.37h3.50v3.50h-3.50zM298.91,253.85h3.50v3.50h-3.50zM299.39,244.64h3.50v3.50h-3.50zM299.87,255.21h3.50v3.50h-3.50zM300.35,263.88h3.50v3.50h-3.50zM300.83,259.63h3.50v3.50h-3.50zM301.31,256.92h3.50v3.50h-3.50zM301.79,265.34h3.50v3.50h-3.50zM302.27,269.32h3.50v3.50h-3.50zM302.75,259.58h3.50v3.50h-3.50zM303.23,269.40h3.50v3.50h-3.50zM303.71,276.90h3.50v3.50h-3.50zM304.19,275.29h3.50v3.50h-3.50zM304.67,281.35h3.50v3.50h-3.50zM305.15,287.16h3.50v3.50h-3.50zM305.63,288.75h3.50v3.50h-3.50zM306.11,291.02h3.50v3.50h-3.50zM306.59,290.33h3.50v3.50h-3.50zM307.07,286.01h3.50v3.50h-3.50zM307.55,289.13h3.50v3.50h-3.50zM308.03,288.86h3.50v3.50h-3.50zM308.51,289.27h3.50v3.50h-3.50zM308.99,290.23h3.50v3.50h-3.50zM309.47,280.28h3.50v3.50h-3.50zM309.95,289.42h3.50v3.50h-3.50zM310.43,291.53h3.50v3.50h-3.50zM310.91,285.45h3.50v3.50h-3.50zM311.39,291.72h3.50v3.50h-3.50zM311.87,295.32h3.50v3.50h-3.50zM312.35,291.00h3.50v3.50h-3.50zM312.83,305.66h3.50v3.50h-3.50zM313.31,276.64h3.50v3.50h-3.50zM313.79,290.80h3.50v3.50h-3.50zM314.27,280.18h3.50v3.50h-3.50zM314.75,298.32h3.50v3.50h-3.50zM315.23,307.45h3.50v3.50h-3.50zM315.71,276.16h3.50v3.50h-3.50zM316.19,292.49h3.50v3.50h-3.50zM316.67,294.94h3.50v3.50h-3.50zM317.15,289.50h3.50v3.50h-3.50zM317.63,294.96h3.50v3.50h-3.50zM318.11,276.70h3.50v3.50h-3.50zM318.59,296.45h3.50v3.50h-3.50zM319.07,292.85h3.50v3.50h-3.50zM319.55,290.10h3.50v3.50h-3.50zM320.03,285.65h3.50v3.50h-3.50zM320.51,293.14h3.50v3.50h-3.50zM320.99,285.35h3.50v3.50h-3.50zM321.47,289.48h3.50v3.50h-3.50zM321.95,284.23h3.50v3.50h-3.50zM322.43,272.47h3.50v3.50h-3.50zM322.91,286.39h3.50v3.50h-3.50zM323.39,287.59h3.50v3.50h-3.50zM323.87,291.28h3.50v3.50h-3.50zM324.35,280.78h3.50v3.50h-3.50zM324.83,286.35h3.50v3.50h-3.50zM325.31,290.67h3.50v3.50h-3.50zM325.79,287.70h3.50v3.50h-3.50zM326.27,294.93h3.50v3.50h-3.50zM326.75,299.90h3.50v3.50h-3.50zM327.23,281.14h3.50v3.50h-3.50zM327.71,274.66h3.50v3.50h-3.50zM328.19,292.81h3.50v3.50h-3.50zM328.67,297.28h3.50v3.50h-3.50zM329.15,293.42h3.50v3.50h-3.50zM329.63,292.82h3.50v3.50h-3.50zM330.11,283.60h3.50v3.50h-3.50zM330.59,283.08h3.50v3.50h-3.50zM331.07,293.59h3.50v3.50h-3.50zM331.55,281.98h3.50v3.50h-3.50zM332.03,276.22h3.50v3.50h-3.50zM332.51,281.62h3.50v3.50h-3.50zM332.99,303.80h3.50v3.50h-3.50zM333.47,300.68h3.50v3.50h-3.50zM333.95,283.55h3.50v3.50h-3.50zM334.43,283.12h3.50v3.50h-3.50zM334.91,289.20h3.50v3.50h-3.50zM335.39,282.67h3.50v3.50h-3.50zM335.87,295.89h3.50v3.50h-3.50zM336.35,286.71h3.50v3.50h-3.50zM336.83,280.00h3.50v3.50h-3.50zM337.31,295.40h3.50v3.50h-3.50zM337.79,282.95h3.50v3.50h-3.50zM338.27,288.01h3.50v3.50h-3.50zM338.75,286.33h3.50v3.50h-3.50zM339.23,284.21h3.50v3.50h-3.50zM339.71,286.98h3.50v3.50h-3.50zM340.19,278.93h3.50v3.50h-3.50zM340.67,270.00h3.50v3.50h-3.50zM341.15,266.20h3.50v3.50h-3.50zM341.63,270.88h3.50v3.50h-3.50zM342.11,272.74h3.50v3.50h-3.50zM342.59,276.08h3.50v3.50h-3.50zM343.07,275.15h3.50v3.50h-3.50zM343.55,277.14h3.50v3.50h-3.50zM344.03,273.16h3.50v3.50h-3.50zM344.51,266.07h3.50v3.50h-3.50zM344.99,265.47h3.50v3.50h-3.50zM345.47,255.15h3.50v3.50h-3.50zM345.95,266.67h3.50v3.50h-3.50zM346.43,269.77h3.50v3.50h-3.50zM346.91,268.91h3.50v3.50h-3.50zM347.39,263.52h3.50v3.50h-3.50zM347.87,262.03h3.50v3.50h-3.50zM348.35,268.24h3.50v3.50h-3.50zM348.83,261.77h3.50v3.50h-3.50zM349.31,265.99h3.50v3.50h-3.50zM349.79,264.50h3.50v3.50h-3.50zM350.27,261.62h3.50v3.50h-3.50zM350.75,268.24h3.50v3.50h-3.50zM351.23,255.55h3.50v3.50h-3.50zM351.71,256.46h3.50v3.50h-3.50zM352.19,253.06h3.50v3.50h-3.50zM352.67,252.65h3.50v3.50h-3.50zM353.15,267.46h3.50v3.50h-3.50zM353.63,268.31h3.50v3.50h-3.50zM354.11,256.54h3.50v3.50h-3.50zM354.59,259.60h3.50v3.50h-3.50zM355.07,263.07h3.50v3.50h-3.50zM355.55,260.41h3.50v3.50h-3.50zM356.03,262.86h3.50v3.50h-3.50zM356.51,246.68h3.50v3.50h-3.50zM356.99,250.60h3.50v3.50h-3.50zM357.47,257.56h3.50v3.50h-3.50zM357.95,263.81h3.50v3.50h-3.50zM358.43,255.02h3.50v3.50h-3.50zM358.91,248.62h3.50v3.50h-3.50zM359.39,251.76h3.50v3.50h-3.50zM359.87,249.64h3.50v3.50h-3.50zM360.35,248.21h3.50v3.50h-3.50zM360.83,263.41h3.50v3.50h-3.50zM361.31,249.45h3.50v3.50h-3.50zM361.79,253.51h3.50v3.50h-3.50zM362.27,267.23h3.50v3.50h-3.50zM362.75,259.08h3.50v3.50h-3.50zM363.23,251.76h3.50v3.50h-3.50zM363.71,243.80h3.50v3.50h-3.50zM364.19,248.64h3.50v3.50h-3.50zM364.67,250.66h3.50v3.50h-3.50zM365.15,244.87h3.50v3.50h-3.50zM366.15,256.35h3.50v3.50h-3.50zM366.15,248.45h3.50v3.50h-3.50zM366.15,241.85h3.50v3.50h-3.50zM366.55,231.25h3.50v3.50h-3.50zM366.85,225.35h3.50v3.50h-3.50zM367.65,236.25h3.50v3.50h-3.50zM368.25,230.25h3.50v3.50h-3.50zM368.85,244.55h3.50v3.50h-3.50zM369.55,231.25h3.50v3.50h-3.50zM370.15,223.35h3.50v3.50h-3.50zM370.85,206.85h3.50v3.50h-3.50zM371.45,216.75h3.50v3.50h-3.50zM372.15,226.05h3.50v3.50h-3.50zM372.85,239.25h3.50v3.50h-3.50zM373.45,220.75h3.50v3.50h-3.50zM374.05,228.25h3.50v3.50h-3.50zM374.55,213.45h3.50v3.50h-3.50zM375.05,219.25h3.50v3.50h-3.50zM375.45,224.05h3.50v3.50h-3.50zM376.15,219.35h3.50v3.50h-3.50zM376.75,226.05h3.50v3.50h-3.50zM377.45,229.95h3.50v3.50h-3.50zM378.05,237.85h3.50v3.50h-3.50zM378.75,241.85h3.50v3.50h-3.50zM379.45,244.55h3.50v3.50h-3.50zM379.75,252.45h3.50v3.50h-3.50zM380.05,256.35h3.50v3.50h-3.50zM380.35,255.85h3.50v3.50h-3.50zM380.85,268.25h3.50v3.50h-3.50zM381.45,276.15h3.50v3.50h-3.50zM382.25,284.25h3.50v3.50h-3.50zM382.85,288.25h3.50v3.50h-3.50zM383.55,292.85h3.50v3.50h-3.50zM383.75,299.95h3.50v3.50h-3.50zM384.25,304.25h3.50v3.50h-3.50zM384.75,308.25h3.50v3.50h-3.50zM385.25,312.25h3.50v3.50h-3.50zM385.75,307.25h3.50v3.50h-3.50zM386.55,304.25h3.50v3.50h-3.50zM387.25,309.25h3.50v3.50h-3.50zM387.85,302.25h3.50v3.50h-3.50zM388.25,300.25h3.50v3.50h-3.50zM388.85,301.65h3.50v3.50h-3.50zM389.65,304.25h3.50v3.50h-3.50zM390.55,296.35h3.50v3.50h-3.50zM391.25,299.25h3.50v3.50h-3.50zM391.85,292.25h3.50v3.50h-3.50zM392.35,287.55h3.50v3.50h-3.50zM393.35,283.25h3.50v3.50h-3.50zM394.15,280.55h3.50v3.50h-3.50zM394.95,274.25h3.50v3.50h-3.50zM395.85,268.25h3.50v3.50h-3.50zM396.75,252.35h3.50v3.50h-3.50zM397.65,277.85h3.50v3.50h-3.50zM398.05,270.25h3.50v3.50h-3.50zM398.55,291.15h3.50v3.50h-3.50zM399.35,298.25h3.50v3.50h-3.50zM399.75,304.25h3.50v3.50h-3.50zM400.25,312.25h3.50v3.50h-3.50zM401.05,319.85h3.50v3.50h-3.50zM401.75,329.75h3.50v3.50h-3.50zM402.25,326.56h3.50v3.50h-3.50zM402.73,323.86h3.50v3.50h-3.50zM403.21,329.07h3.50v3.50h-3.50zM403.69,328.61h3.50v3.50h-3.50zM404.17,334.86h3.50v3.50h-3.50zM404.65,340.25h3.50v3.50h-3.50zM405.13,327.19h3.50v3.50h-3.50zM405.61,334.64h3.50v3.50h-3.50zM406.09,336.75h3.50v3.50h-3.50zM406.57,333.29h3.50v3.50h-3.50zM407.05,335.21h3.50v3.50h-3.50zM407.53,341.28h3.50v3.50h-3.50zM408.01,347.96h3.50v3.50h-3.50zM408.49,341.64h3.50v3.50h-3.50zM408.97,340.60h3.50v3.50h-3.50zM409.45,331.69h3.50v3.50h-3.50zM409.93,349.57h3.50v3.50h-3.50zM410.41,340.79h3.50v3.50h-3.50zM410.89,340.72h3.50v3.50h-3.50zM411.37,335.78h3.50v3.50h-3.50zM411.85,341.57h3.50v3.50h-3.50zM412.33,336.85h3.50v3.50h-3.50zM412.81,343.17h3.50v3.50h-3.50zM413.29,345.58h3.50v3.50h-3.50zM413.77,343.41h3.50v3.50h-3.50zM414.25,344.65h3.50v3.50h-3.50zM414.73,338.99h3.50v3.50h-3.50zM415.21,350.40h3.50v3.50h-3.50zM415.69,339.98h3.50v3.50h-3.50zM416.17,334.16h3.50v3.50h-3.50zM416.65,342.31h3.50v3.50h-3.50zM417.13,339.43h3.50v3.50h-3.50zM417.61,338.20h3.50v3.50h-3.50zM418.09,341.48h3.50v3.50h-3.50zM418.57,344.55h3.50v3.50h-3.50zM419.05,336.94h3.50v3.50h-3.50zM419.53,341.92h3.50v3.50h-3.50zM420.01,349.50h3.50v3.50h-3.50zM420.49,345.54h3.50v3.50h-3.50zM420.97,341.13h3.50v3.50h-3.50z" fill="#000"/><path d="M425.00,272.59 L425.48,270.24 L425.96,270.61 L426.44,277.01 L426.92,269.75 L427.40,249.90 L427.88,269.88 L428.36,261.72 L428.84,273.86 L429.32,262.17 L429.80,267.66 L430.28,283.95 L430.76,255.58 L431.24,253.96 L431.72,250.56 L432.20,241.29 L432.68,244.84 L433.16,263.07 L433.64,253.71 L434.12,242.41 L434.60,244.85 L435.08,261.86 L435.56,249.18 L436.04,251.88 L436.52,257.81 L437.00,266.53 L437.48,271.50 L437.96,263.78 L438.44,256.22 L438.92,256.57 L439.40,270.32 L439.88,267.14 L440.36,252.63 L440.84,259.52 L441.32,258.43 L441.80,256.80 L442.28,252.46 L442.76,245.79 L443.24,252.89 L443.72,244.66 L444.20,268.80 L444.68,263.92 L445.16,250.07 L445.64,273.14 L446.12,269.82 L446.60,246.98 L447.08,279.81 L447.56,272.00 L448.04,283.59 L448.52,256.06 L449.00,271.51 L449.48,271.08 L449.96,269.68 L450.44,269.90 L450.92,277.87 L451.40,256.70 L451.88,259.32 L452.36,257.97 L452.84,264.84 L453.32,264.19 L453.80,272.22 L454.28,271.13 L454.76,268.89 L455.24,262.63 L455.72,264.38 L456.20,275.60 L456.68,272.79 L457.16,265.96 L457.64,261.16 L458.12,275.90 L458.60,256.45 L459.08,265.81 L459.56,268.91 L460.04,255.64 L460.52,263.63 L461.00,245.85 L461.48,262.66 L461.96,254.47 L462.44,238.01 L462.92,255.90 L463.40,242.42 L463.88,260.90 L464.36,244.23 L464.84,248.60 L465.32,252.41 L465.80,247.17 L466.28,252.67 L466.76,246.56 L467.24,257.78 L467.72,252.91 L468.20,255.46 L468.68,234.07 L469.16,265.41 L469.64,257.40 L470.12,248.04 L470.60,260.91 L471.08,264.74 L471.56,269.96 L472.04,258.73 L472.52,277.23 L473.00,269.71 L473.48,287.76 L473.96,275.23 L474.44,282.91 L474.92,279.35 L475.40,277.30 L475.88,292.98 L476.36,294.24 L476.84,300.43 L477.32,298.74 L477.80,292.56 L478.28,288.24 L478.76,296.39 L479.24,298.32 L479.72,299.56 L480.20,310.03 L480.68,310.58 L481.16,308.18 L481.64,310.24 L482.12,307.73 L482.60,309.28 L483.08,311.91 L483.56,312.56 L484.04,302.08 L484.52,296.56 L485.00,313.56 L485.48,304.61 L485.96,309.47 L486.44,291.90 L486.92,298.70 L487.40,299.76 L487.88,289.87 L488.36,294.34 L488.84,300.71 L489.32,302.87 L489.80,306.56 L490.28,292.42 L490.76,289.79 L491.24,301.92 L491.72,305.04 L492.20,301.16 L492.68,292.79 L493.16,305.76 L493.64,306.03 L494.12,304.80 L494.60,298.76 L495.08,303.72 L495.56,306.84 L496.04,298.95 L496.52,291.45 L497.00,304.69 L497.48,305.81 L497.96,303.21 L498.44,308.67 L498.92,300.02 L499.40,303.25 L499.88,302.12 L500.36,307.00 L500.84,312.57 L501.32,300.91 L501.80,314.17 L502.28,310.44 L502.76,305.43 L503.24,303.63 L503.72,310.16 L504.20,297.88 L504.68,297.71 L505.16,290.81 L505.64,299.95 L506.12,304.78 L506.60,298.66 L507.08,297.11 L507.56,292.22 L508.04,293.78 L508.52,282.58 L509.00,297.82 L509.48,287.98 L509.96,283.10 L510.44,285.04 L510.92,284.20 L511.40,294.76 L511.88,295.72 L512.36,279.65 L512.84,294.14 L513.32,293.35 L513.80,283.17 L514.28,276.63 L514.76,280.81 L515.24,280.89 L515.72,286.60 L516.20,281.41 L516.68,269.91 L517.16,283.97 L517.64,271.84 L518.12,287.06 L518.60,272.69 L519.08,275.40 L519.56,273.81 L520.04,275.28 L520.52,286.70 L521.00,283.25 L521.48,281.08 L521.96,278.69 L522.44,266.01 L522.92,272.14 L523.40,271.38 L523.88,268.07 L524.36,277.18 L524.84,268.51 L525.32,268.16 L525.80,265.44 L526.28,258.35 L526.76,275.11 L527.24,279.41 L527.72,271.42 L528.20,263.45 L528.68,253.72 L529.16,269.96 L529.64,276.27 L530.12,269.81 L530.60,273.43 L531.08,276.79 L531.56,275.58 L532.04,266.47 L532.52,277.26 L533.00,276.54 L533.48,262.59 L533.96,271.03 L534.44,265.49 L534.92,275.11 L535.40,279.16 L535.88,267.74 L536.36,260.60 L536.84,281.68 L537.32,274.97 L537.80,281.36 L538.28,262.48 L538.76,277.25 L539.24,282.52 L539.72,280.17 L540.20,264.46 L540.68,264.22 L541.16,260.82 L541.64,262.93 L542.12,261.55 L542.60,257.90 L543.08,252.52 L543.56,259.55 L544.04,255.00 L544.52,258.52 L545.30,242.00 L545.90,248.60 L546.50,250.00 L547.20,244.60 L547.90,246.00 L548.60,239.40 L549.20,233.40 L549.90,255.20 L550.50,243.30 L551.20,222.20 L551.60,214.90 L552.50,229.40 L553.20,226.80 L553.80,216.90 L554.50,226.00 L555.20,236.10 L555.30,263.20 L556.00,269.80 L556.40,283.00 L556.80,288.50 L557.50,301.60 L558.20,318.10 L559.00,316.00 L559.70,321.40 L560.30,318.00 L560.80,326.90 L561.90,309.30 L562.50,333.50 L563.30,329.00 L564.10,335.70 L565.20,340.10 L565.80,333.00 L566.30,326.90 L567.40,324.70 L568.00,330.00 L568.50,320.30 L569.10,322.00 L569.60,315.90 L570.20,312.00 L570.70,309.30 L571.30,303.80 L571.80,297.30 L572.20,290.70 L572.60,281.00 L572.90,270.90 L573.30,259.90 L574.00,268.70 L574.50,276.00 L575.10,283.00 L575.70,285.20 L576.20,298.00 L576.60,312.60 L577.30,316.00 L577.90,319.20 L578.40,333.50 L579.00,330.00 L579.50,337.90 L580.10,340.10 L581.00,338.00 L581.80,343.00 L582.80,344.50 L583.40,349.29 L584.10,361.27 L584.80,358.48 L585.50,346.33 L586.20,352.59 L586.90,363.77 L587.60,345.21 L588.30,352.83 L589.00,358.75 L589.70,359.14 L590.40,353.09 L591.10,338.23 L591.80,338.57 L592.50,350.49 L593.20,351.47 L593.90,367.42 L594.60,341.19 L595.30,357.10 L596.00,354.16 L596.70,334.63 L597.40,341.45 L598.10,349.33 L598.80,344.05 L599.50,346.76 L600.20,351.76 L600.90,341.52 L601.60,351.73 L602.30,342.91 L603.00,343.64 L603.70,352.29 L604.40,343.41 L605.10,350.29 L605.80,360.72 L606.50,348.08 L607.20,346.63 L607.90,353.62 L608.60,344.75 L609.30,356.27 L610.00,337.28 L610.70,352.43 L611.40,343.32 L612.10,340.96 L612.80,361.45 L613.50,340.43 L614.20,361.22 L614.90,352.37" fill="none" stroke="#000" stroke-width="0.85" stroke-linejoin="round"/><path d="M423.25,270.84h3.50v3.50h-3.50zM423.73,268.49h3.50v3.50h-3.50zM424.21,268.86h3.50v3.50h-3.50zM424.69,275.26h3.50v3.50h-3.50zM425.17,268.00h3.50v3.50h-3.50zM425.65,248.15h3.50v3.50h-3.50zM426.13,268.13h3.50v3.50h-3.50zM426.61,259.97h3.50v3.50h-3.50zM427.09,272.11h3.50v3.50h-3.50zM427.57,260.42h3.50v3.50h-3.50zM428.05,265.91h3.50v3.50h-3.50zM428.53,282.20h3.50v3.50h-3.50zM429.01,253.83h3.50v3.50h-3.50zM429.49,252.21h3.50v3.50h-3.50zM429.97,248.81h3.50v3.50h-3.50zM430.45,239.54h3.50v3.50h-3.50zM430.93,243.09h3.50v3.50h-3.50zM431.41,261.32h3.50v3.50h-3.50zM431.89,251.96h3.50v3.50h-3.50zM432.37,240.66h3.50v3.50h-3.50zM432.85,243.10h3.50v3.50h-3.50zM433.33,260.11h3.50v3.50h-3.50zM433.81,247.43h3.50v3.50h-3.50zM434.29,250.13h3.50v3.50h-3.50zM434.77,256.06h3.50v3.50h-3.50zM435.25,264.78h3.50v3.50h-3.50zM435.73,269.75h3.50v3.50h-3.50zM436.21,262.03h3.50v3.50h-3.50zM436.69,254.47h3.50v3.50h-3.50zM437.17,254.82h3.50v3.50h-3.50zM437.65,268.57h3.50v3.50h-3.50zM438.13,265.39h3.50v3.50h-3.50zM438.61,250.88h3.50v3.50h-3.50zM439.09,257.77h3.50v3.50h-3.50zM439.57,256.68h3.50v3.50h-3.50zM440.05,255.05h3.50v3.50h-3.50zM440.53,250.71h3.50v3.50h-3.50zM441.01,244.04h3.50v3.50h-3.50zM441.49,251.14h3.50v3.50h-3.50zM441.97,242.91h3.50v3.50h-3.50zM442.45,267.05h3.50v3.50h-3.50zM442.93,262.17h3.50v3.50h-3.50zM443.41,248.32h3.50v3.50h-3.50zM443.89,271.39h3.50v3.50h-3.50zM444.37,268.07h3.50v3.50h-3.50zM444.85,245.23h3.50v3.50h-3.50zM445.33,278.06h3.50v3.50h-3.50zM445.81,270.25h3.50v3.50h-3.50zM446.29,281.84h3.50v3.50h-3.50zM446.77,254.31h3.50v3.50h-3.50zM447.25,269.76h3.50v3.50h-3.50zM447.73,269.33h3.50v3.50h-3.50zM448.21,267.93h3.50v3.50h-3.50zM448.69,268.15h3.50v3.50h-3.50zM449.17,276.12h3.50v3.50h-3.50zM449.65,254.95h3.50v3.50h-3.50zM450.13,257.57h3.50v3.50h-3.50zM450.61,256.22h3.50v3.50h-3.50zM451.09,263.09h3.50v3.50h-3.50zM451.57,262.44h3.50v3.50h-3.50zM452.05,270.47h3.50v3.50h-3.50zM452.53,269.38h3.50v3.50h-3.50zM453.01,267.14h3.50v3.50h-3.50zM453.49,260.88h3.50v3.50h-3.50zM453.97,262.63h3.50v3.50h-3.50zM454.45,273.85h3.50v3.50h-3.50zM454.93,271.04h3.50v3.50h-3.50zM455.41,264.21h3.50v3.50h-3.50zM455.89,259.41h3.50v3.50h-3.50zM456.37,274.15h3.50v3.50h-3.50zM456.85,254.70h3.50v3.50h-3.50zM457.33,264.06h3.50v3.50h-3.50zM457.81,267.16h3.50v3.50h-3.50zM458.29,253.89h3.50v3.50h-3.50zM458.77,261.88h3.50v3.50h-3.50zM459.25,244.10h3.50v3.50h-3.50zM459.73,260.91h3.50v3.50h-3.50zM460.21,252.72h3.50v3.50h-3.50zM460.69,236.26h3.50v3.50h-3.50zM461.17,254.15h3.50v3.50h-3.50zM461.65,240.67h3.50v3.50h-3.50zM462.13,259.15h3.50v3.50h-3.50zM462.61,242.48h3.50v3.50h-3.50zM463.09,246.85h3.50v3.50h-3.50zM463.57,250.66h3.50v3.50h-3.50zM464.05,245.42h3.50v3.50h-3.50zM464.53,250.92h3.50v3.50h-3.50zM465.01,244.81h3.50v3.50h-3.50zM465.49,256.03h3.50v3.50h-3.50zM465.97,251.16h3.50v3.50h-3.50zM466.45,253.71h3.50v3.50h-3.50zM466.93,232.32h3.50v3.50h-3.50zM467.41,263.66h3.50v3.50h-3.50zM467.89,255.65h3.50v3.50h-3.50zM468.37,246.29h3.50v3.50h-3.50zM468.85,259.16h3.50v3.50h-3.50zM469.33,262.99h3.50v3.50h-3.50zM469.81,268.21h3.50v3.50h-3.50zM470.29,256.98h3.50v3.50h-3.50zM470.77,275.48h3.50v3.50h-3.50zM471.25,267.96h3.50v3.50h-3.50zM471.73,286.01h3.50v3.50h-3.50zM472.21,273.48h3.50v3.50h-3.50zM472.69,281.16h3.50v3.50h-3.50zM473.17,277.60h3.50v3.50h-3.50zM473.65,275.55h3.50v3.50h-3.50zM474.13,291.23h3.50v3.50h-3.50zM474.61,292.49h3.50v3.50h-3.50zM475.09,298.68h3.50v3.50h-3.50zM475.57,296.99h3.50v3.50h-3.50zM476.05,290.81h3.50v3.50h-3.50zM476.53,286.49h3.50v3.50h-3.50zM477.01,294.64h3.50v3.50h-3.50zM477.49,296.57h3.50v3.50h-3.50zM477.97,297.81h3.50v3.50h-3.50zM478.45,308.28h3.50v3.50h-3.50zM478.93,308.83h3.50v3.50h-3.50zM479.41,306.43h3.50v3.50h-3.50zM479.89,308.49h3.50v3.50h-3.50zM480.37,305.98h3.50v3.50h-3.50zM480.85,307.53h3.50v3.50h-3.50zM481.33,310.16h3.50v3.50h-3.50zM481.81,310.81h3.50v3.50h-3.50zM482.29,300.33h3.50v3.50h-3.50zM482.77,294.81h3.50v3.50h-3.50zM483.25,311.81h3.50v3.50h-3.50zM483.73,302.86h3.50v3.50h-3.50zM484.21,307.72h3.50v3.50h-3.50zM484.69,290.15h3.50v3.50h-3.50zM485.17,296.95h3.50v3.50h-3.50zM485.65,298.01h3.50v3.50h-3.50zM486.13,288.12h3.50v3.50h-3.50zM486.61,292.59h3.50v3.50h-3.50zM487.09,298.96h3.50v3.50h-3.50zM487.57,301.12h3.50v3.50h-3.50zM488.05,304.81h3.50v3.50h-3.50zM488.53,290.67h3.50v3.50h-3.50zM489.01,288.04h3.50v3.50h-3.50zM489.49,300.17h3.50v3.50h-3.50zM489.97,303.29h3.50v3.50h-3.50zM490.45,299.41h3.50v3.50h-3.50zM490.93,291.04h3.50v3.50h-3.50zM491.41,304.01h3.50v3.50h-3.50zM491.89,304.28h3.50v3.50h-3.50zM492.37,303.05h3.50v3.50h-3.50zM492.85,297.01h3.50v3.50h-3.50zM493.33,301.97h3.50v3.50h-3.50zM493.81,305.09h3.50v3.50h-3.50zM494.29,297.20h3.50v3.50h-3.50zM494.77,289.70h3.50v3.50h-3.50zM495.25,302.94h3.50v3.50h-3.50zM495.73,304.06h3.50v3.50h-3.50zM496.21,301.46h3.50v3.50h-3.50zM496.69,306.92h3.50v3.50h-3.50zM497.17,298.27h3.50v3.50h-3.50zM497.65,301.50h3.50v3.50h-3.50zM498.13,300.37h3.50v3.50h-3.50zM498.61,305.25h3.50v3.50h-3.50zM499.09,310.82h3.50v3.50h-3.50zM499.57,299.16h3.50v3.50h-3.50zM500.05,312.42h3.50v3.50h-3.50zM500.53,308.69h3.50v3.50h-3.50zM501.01,303.68h3.50v3.50h-3.50zM501.49,301.88h3.50v3.50h-3.50zM501.97,308.41h3.50v3.50h-3.50zM502.45,296.13h3.50v3.50h-3.50zM502.93,295.96h3.50v3.50h-3.50zM503.41,289.06h3.50v3.50h-3.50zM503.89,298.20h3.50v3.50h-3.50zM504.37,303.03h3.50v3.50h-3.50zM504.85,296.91h3.50v3.50h-3.50zM505.33,295.36h3.50v3.50h-3.50zM505.81,290.47h3.50v3.50h-3.50zM506.29,292.03h3.50v3.50h-3.50zM506.77,280.83h3.50v3.50h-3.50zM507.25,296.07h3.50v3.50h-3.50zM507.73,286.23h3.50v3.50h-3.50zM508.21,281.35h3.50v3.50h-3.50zM508.69,283.29h3.50v3.50h-3.50zM509.17,282.45h3.50v3.50h-3.50zM509.65,293.01h3.50v3.50h-3.50zM510.13,293.97h3.50v3.50h-3.50zM510.61,277.90h3.50v3.50h-3.50zM511.09,292.39h3.50v3.50h-3.50zM511.57,291.60h3.50v3.50h-3.50zM512.05,281.42h3.50v3.50h-3.50zM512.53,274.88h3.50v3.50h-3.50zM513.01,279.06h3.50v3.50h-3.50zM513.49,279.14h3.50v3.50h-3.50zM513.97,284.85h3.50v3.50h-3.50zM514.45,279.66h3.50v3.50h-3.50zM514.93,268.16h3.50v3.50h-3.50zM515.41,282.22h3.50v3.50h-3.50zM515.89,270.09h3.50v3.50h-3.50zM516.37,285.31h3.50v3.50h-3.50zM516.85,270.94h3.50v3.50h-3.50zM517.33,273.65h3.50v3.50h-3.50zM517.81,272.06h3.50v3.50h-3.50zM518.29,273.53h3.50v3.50h-3.50zM518.77,284.95h3.50v3.50h-3.50zM519.25,281.50h3.50v3.50h-3.50zM519.73,279.33h3.50v3.50h-3.50zM520.21,276.94h3.50v3.50h-3.50zM520.69,264.26h3.50v3.50h-3.50zM521.17,270.39h3.50v3.50h-3.50zM521.65,269.63h3.50v3.50h-3.50zM522.13,266.32h3.50v3.50h-3.50zM522.61,275.43h3.50v3.50h-3.50zM523.09,266.76h3.50v3.50h-3.50zM523.57,266.41h3.50v3.50h-3.50zM524.05,263.69h3.50v3.50h-3.50zM524.53,256.60h3.50v3.50h-3.50zM525.01,273.36h3.50v3.50h-3.50zM525.49,277.66h3.50v3.50h-3.50zM525.97,269.67h3.50v3.50h-3.50zM526.45,261.70h3.50v3.50h-3.50zM526.93,251.97h3.50v3.50h-3.50zM527.41,268.21h3.50v3.50h-3.50zM527.89,274.52h3.50v3.50h-3.50zM528.37,268.06h3.50v3.50h-3.50zM528.85,271.68h3.50v3.50h-3.50zM529.33,275.04h3.50v3.50h-3.50zM529.81,273.83h3.50v3.50h-3.50zM530.29,264.72h3.50v3.50h-3.50zM530.77,275.51h3.50v3.50h-3.50zM531.25,274.79h3.50v3.50h-3.50zM531.73,260.84h3.50v3.50h-3.50zM532.21,269.28h3.50v3.50h-3.50zM532.69,263.74h3.50v3.50h-3.50zM533.17,273.36h3.50v3.50h-3.50zM533.65,277.41h3.50v3.50h-3.50zM534.13,265.99h3.50v3.50h-3.50zM534.61,258.85h3.50v3.50h-3.50zM535.09,279.93h3.50v3.50h-3.50zM535.57,273.22h3.50v3.50h-3.50zM536.05,279.61h3.50v3.50h-3.50zM536.53,260.73h3.50v3.50h-3.50zM537.01,275.50h3.50v3.50h-3.50zM537.49,280.77h3.50v3.50h-3.50zM537.97,278.42h3.50v3.50h-3.50zM538.45,262.71h3.50v3.50h-3.50zM538.93,262.47h3.50v3.50h-3.50zM539.41,259.07h3.50v3.50h-3.50zM539.89,261.18h3.50v3.50h-3.50zM540.37,259.80h3.50v3.50h-3.50zM540.85,256.15h3.50v3.50h-3.50zM541.33,250.77h3.50v3.50h-3.50zM541.81,257.80h3.50v3.50h-3.50zM542.29,253.25h3.50v3.50h-3.50zM542.77,256.77h3.50v3.50h-3.50zM543.55,240.25h3.50v3.50h-3.50zM544.15,246.85h3.50v3.50h-3.50zM544.75,248.25h3.50v3.50h-3.50zM545.45,242.85h3.50v3.50h-3.50zM546.15,244.25h3.50v3.50h-3.50zM546.85,237.65h3.50v3.50h-3.50zM547.45,231.65h3.50v3.50h-3.50zM548.15,253.45h3.50v3.50h-3.50zM548.75,241.55h3.50v3.50h-3.50zM549.45,220.45h3.50v3.50h-3.50zM549.85,213.15h3.50v3.50h-3.50zM550.75,227.65h3.50v3.50h-3.50zM551.45,225.05h3.50v3.50h-3.50zM552.05,215.15h3.50v3.50h-3.50zM552.75,224.25h3.50v3.50h-3.50zM553.45,234.35h3.50v3.50h-3.50zM553.55,261.45h3.50v3.50h-3.50zM554.25,268.05h3.50v3.50h-3.50zM554.65,281.25h3.50v3.50h-3.50zM555.05,286.75h3.50v3.50h-3.50zM555.75,299.85h3.50v3.50h-3.50zM556.45,316.35h3.50v3.50h-3.50zM557.25,314.25h3.50v3.50h-3.50zM557.95,319.65h3.50v3.50h-3.50zM558.55,316.25h3.50v3.50h-3.50zM559.05,325.15h3.50v3.50h-3.50zM560.15,307.55h3.50v3.50h-3.50zM560.75,331.75h3.50v3.50h-3.50zM561.55,327.25h3.50v3.50h-3.50zM562.35,333.95h3.50v3.50h-3.50zM563.45,338.35h3.50v3.50h-3.50zM564.05,331.25h3.50v3.50h-3.50zM564.55,325.15h3.50v3.50h-3.50zM565.65,322.95h3.50v3.50h-3.50zM566.25,328.25h3.50v3.50h-3.50zM566.75,318.55h3.50v3.50h-3.50zM567.35,320.25h3.50v3.50h-3.50zM567.85,314.15h3.50v3.50h-3.50zM568.45,310.25h3.50v3.50h-3.50zM568.95,307.55h3.50v3.50h-3.50zM569.55,302.05h3.50v3.50h-3.50zM570.05,295.55h3.50v3.50h-3.50zM570.45,288.95h3.50v3.50h-3.50zM570.85,279.25h3.50v3.50h-3.50zM571.15,269.15h3.50v3.50h-3.50zM571.55,258.15h3.50v3.50h-3.50zM572.25,266.95h3.50v3.50h-3.50zM572.75,274.25h3.50v3.50h-3.50zM573.35,281.25h3.50v3.50h-3.50zM573.95,283.45h3.50v3.50h-3.50zM574.45,296.25h3.50v3.50h-3.50zM574.85,310.85h3.50v3.50h-3.50zM575.55,314.25h3.50v3.50h-3.50zM576.15,317.45h3.50v3.50h-3.50zM576.65,331.75h3.50v3.50h-3.50zM577.25,328.25h3.50v3.50h-3.50zM577.75,336.15h3.50v3.50h-3.50zM578.35,338.35h3.50v3.50h-3.50zM579.25,336.25h3.50v3.50h-3.50zM580.05,341.25h3.50v3.50h-3.50zM581.05,342.75h3.50v3.50h-3.50zM581.65,347.54h3.50v3.50h-3.50zM582.35,359.52h3.50v3.50h-3.50zM583.05,356.73h3.50v3.50h-3.50zM583.75,344.58h3.50v3.50h-3.50zM584.45,350.84h3.50v3.50h-3.50zM585.15,362.02h3.50v3.50h-3.50zM585.85,343.46h3.50v3.50h-3.50zM586.55,351.08h3.50v3.50h-3.50zM587.25,357.00h3.50v3.50h-3.50zM587.95,357.39h3.50v3.50h-3.50zM588.65,351.34h3.50v3.50h-3.50zM589.35,336.48h3.50v3.50h-3.50zM590.05,336.82h3.50v3.50h-3.50zM590.75,348.74h3.50v3.50h-3.50zM591.45,349.72h3.50v3.50h-3.50zM592.15,365.67h3.50v3.50h-3.50zM592.85,339.44h3.50v3.50h-3.50zM593.55,355.35h3.50v3.50h-3.50zM594.25,352.41h3.50v3.50h-3.50zM594.95,332.88h3.50v3.50h-3.50zM595.65,339.70h3.50v3.50h-3.50zM596.35,347.58h3.50v3.50h-3.50zM597.05,342.30h3.50v3.50h-3.50zM597.75,345.01h3.50v3.50h-3.50zM598.45,350.01h3.50v3.50h-3.50zM599.15,339.77h3.50v3.50h-3.50zM599.85,349.98h3.50v3.50h-3.50zM600.55,341.16h3.50v3.50h-3.50zM601.25,341.89h3.50v3.50h-3.50zM601.95,350.54h3.50v3.50h-3.50zM602.65,341.66h3.50v3.50h-3.50zM603.35,348.54h3.50v3.50h-3.50zM604.05,358.97h3.50v3.50h-3.50zM604.75,346.33h3.50v3.50h-3.50zM605.45,344.88h3.50v3.50h-3.50zM606.15,351.87h3.50v3.50h-3.50zM606.85,343.00h3.50v3.50h-3.50zM607.55,354.52h3.50v3.50h-3.50zM608.25,335.53h3.50v3.50h-3.50zM608.95,350.68h3.50v3.50h-3.50zM609.65,341.57h3.50v3.50h-3.50zM610.35,339.21h3.50v3.50h-3.50zM611.05,359.70h3.50v3.50h-3.50zM611.75,338.68h3.50v3.50h-3.50zM612.45,359.47h3.50v3.50h-3.50zM613.15,350.62h3.50v3.50h-3.50z" fill="#000"/></g>
<rect x="39.60" y="2.80" width="576.30" height="383.90" fill="none" stroke="#5c5c5c" stroke-width="1.30"/>
<line x1="39.60" y1="194.80" x2="615.90" y2="194.80" stroke="#5c5c5c" stroke-width="1.30"/>
<line x1="231.60" y1="2.80" x2="231.60" y2="386.70" stroke="#5c5c5c" stroke-width="1.30"/>
<line x1="424.00" y1="2.80" x2="424.00" y2="386.70" stroke="#5c5c5c" stroke-width="1.30"/>
<path d="M192.78,191.60V198.00M144.96,191.60V198.00M97.14,191.60V198.00M49.31,191.60V198.00M389.40,191.60V198.00M340.10,191.60V198.00M290.80,191.60V198.00M241.50,191.60V198.00M587.50,191.60V198.00M539.60,191.60V198.00M491.70,191.60V198.00M443.80,191.60V198.00M221.48,192.80V194.80M211.92,192.80V194.80M202.35,192.80V194.80M183.22,192.80V194.80M173.66,192.80V194.80M164.09,192.80V194.80M154.53,192.80V194.80M135.40,192.80V194.80M125.83,192.80V194.80M116.27,192.80V194.80M106.70,192.80V194.80M87.57,192.80V194.80M78.01,192.80V194.80M68.44,192.80V194.80M58.88,192.80V194.80M418.98,192.80V194.80M409.12,192.80V194.80M399.26,192.80V194.80M379.54,192.80V194.80M369.68,192.80V194.80M359.82,192.80V194.80M349.96,192.80V194.80M330.24,192.80V194.80M320.38,192.80V194.80M310.52,192.80V194.80M300.66,192.80V194.80M280.94,192.80V194.80M271.08,192.80V194.80M261.22,192.80V194.80M251.36,192.80V194.80M606.66,192.80V194.80M597.08,192.80V194.80M577.92,192.80V194.80M568.34,192.80V194.80M558.76,192.80V194.80M549.18,192.80V194.80M530.02,192.80V194.80M520.44,192.80V194.80M510.86,192.80V194.80M501.28,192.80V194.80M482.12,192.80V194.80M472.54,192.80V194.80M462.96,192.80V194.80M453.38,192.80V194.80M434.22,192.80V194.80M192.78,383.50V389.90M144.96,383.50V389.90M97.14,383.50V389.90M49.31,383.50V389.90M389.40,383.50V389.90M340.10,383.50V389.90M290.80,383.50V389.90M241.50,383.50V389.90M587.50,383.50V389.90M539.60,383.50V389.90M491.70,383.50V389.90M443.80,383.50V389.90M221.48,384.70V386.70M211.92,384.70V386.70M202.35,384.70V386.70M183.22,384.70V386.70M173.66,384.70V386.70M164.09,384.70V386.70M154.53,384.70V386.70M135.40,384.70V386.70M125.83,384.70V386.70M116.27,384.70V386.70M106.70,384.70V386.70M87.57,384.70V386.70M78.01,384.70V386.70M68.44,384.70V386.70M58.88,384.70V386.70M418.98,384.70V386.70M409.12,384.70V386.70M399.26,384.70V386.70M379.54,384.70V386.70M369.68,384.70V386.70M359.82,384.70V386.70M349.96,384.70V386.70M330.24,384.70V386.70M320.38,384.70V386.70M310.52,384.70V386.70M300.66,384.70V386.70M280.94,384.70V386.70M271.08,384.70V386.70M261.22,384.70V386.70M251.36,384.70V386.70M606.66,384.70V386.70M597.08,384.70V386.70M577.92,384.70V386.70M568.34,384.70V386.70M558.76,384.70V386.70M549.18,384.70V386.70M530.02,384.70V386.70M520.44,384.70V386.70M510.86,384.70V386.70M501.28,384.70V386.70M482.12,384.70V386.70M472.54,384.70V386.70M462.96,384.70V386.70M453.38,384.70V386.70M434.22,384.70V386.70" stroke="#5c5c5c" stroke-width="1.1" fill="none"/>
<rect x="145.80" y="2.00" width="24.90" height="383.60" fill="#a99405" fill-opacity="0.420"/>
<rect x="341.00" y="2.00" width="25.00" height="383.60" fill="#a99405" fill-opacity="0.420"/>
<rect x="508.40" y="2.00" width="24.80" height="383.60" fill="#a99405" fill-opacity="0.420"/>
<rect x="173.90" y="2.00" width="19.00" height="383.60" fill="#1381c4" fill-opacity="0.420"/>
<rect x="369.50" y="2.00" width="18.80" height="383.60" fill="#1381c4" fill-opacity="0.420"/>
<rect x="539.60" y="2.00" width="19.10" height="383.60" fill="#1381c4" fill-opacity="0.420"/>
<rect x="197.00" y="2.00" width="18.70" height="383.60" fill="#868686" fill-opacity="0.420"/>
<rect x="392.20" y="2.00" width="18.50" height="383.60" fill="#868686" fill-opacity="0.420"/>
<rect x="565.20" y="2.00" width="18.60" height="383.60" fill="#868686" fill-opacity="0.420"/>
<rect x="43.30" y="7.50" width="49.10" height="25.30" fill="#fff" stroke="#d8d8d8" stroke-width="1"/>
<text x="45.60" y="26.20" font-size="18.2" transform="translate(0.00,26.20) scale(1,1.04) translate(0.00,-26.20)">Cr 2p</text>
<rect x="237.50" y="8.90" width="53.20" height="25.30" fill="#fff" stroke="#d8d8d8" stroke-width="1"/>
<text x="239.50" y="27.60" font-size="18.2" transform="translate(0.00,27.60) scale(1,1.04) translate(0.00,-27.60)">Co 2p</text>
<rect x="429.50" y="7.70" width="48.00" height="25.60" fill="#fff" stroke="#d8d8d8" stroke-width="1"/>
<text x="432.40" y="26.50" font-size="18.2" transform="translate(0.00,26.50) scale(1,1.04) translate(0.00,-26.50)">Ni 2p</text>
<rect x="44.20" y="199.50" width="49.50" height="25.20" fill="#fff" stroke="#d8d8d8" stroke-width="1"/>
<text x="46.70" y="218.20" font-size="18.2" transform="translate(0.00,218.20) scale(1,1.04) translate(0.00,-218.20)">Cr 2p</text>
<rect x="238.40" y="200.60" width="53.40" height="25.90" fill="#fff" stroke="#d8d8d8" stroke-width="1"/>
<text x="240.80" y="219.00" font-size="18.2" transform="translate(0.00,219.00) scale(1,1.04) translate(0.00,-219.00)">Co 2p</text>
<rect x="430.70" y="199.60" width="48.00" height="25.60" fill="#fff" stroke="#d8d8d8" stroke-width="1"/>
<text x="433.40" y="218.70" font-size="18.2" transform="translate(0.00,218.70) scale(1,1.04) translate(0.00,-218.70)">Ni 2p</text>
<text x="49.31" y="405.8" font-size="17.6" text-anchor="middle" transform="translate(0,405.8) scale(1,1.04) translate(0,-405.8)">590</text>
<text x="97.14" y="405.8" font-size="17.6" text-anchor="middle" transform="translate(0,405.8) scale(1,1.04) translate(0,-405.8)">585</text>
<text x="144.96" y="405.8" font-size="17.6" text-anchor="middle" transform="translate(0,405.8) scale(1,1.04) translate(0,-405.8)">580</text>
<text x="192.78" y="405.8" font-size="17.6" text-anchor="middle" transform="translate(0,405.8) scale(1,1.04) translate(0,-405.8)">575</text>
<text x="241.50" y="405.8" font-size="17.6" text-anchor="middle" transform="translate(0,405.8) scale(1,1.04) translate(0,-405.8)">810</text>
<text x="290.80" y="405.8" font-size="17.6" text-anchor="middle" transform="translate(0,405.8) scale(1,1.04) translate(0,-405.8)">800</text>
<text x="340.10" y="405.8" font-size="17.6" text-anchor="middle" transform="translate(0,405.8) scale(1,1.04) translate(0,-405.8)">790</text>
<text x="389.40" y="405.8" font-size="17.6" text-anchor="middle" transform="translate(0,405.8) scale(1,1.04) translate(0,-405.8)">780</text>
<text x="443.80" y="405.8" font-size="17.6" text-anchor="middle" transform="translate(0,405.8) scale(1,1.04) translate(0,-405.8)">880</text>
<text x="491.70" y="405.8" font-size="17.6" text-anchor="middle" transform="translate(0,405.8) scale(1,1.04) translate(0,-405.8)">870</text>
<text x="539.60" y="405.8" font-size="17.6" text-anchor="middle" transform="translate(0,405.8) scale(1,1.04) translate(0,-405.8)">860</text>
<text x="587.50" y="405.8" font-size="17.6" text-anchor="middle" transform="translate(0,405.8) scale(1,1.04) translate(0,-405.8)">850</text>
<text x="318.75" y="445.6" font-size="28.8" text-anchor="middle" transform="translate(0,445.6) scale(1,1.04) translate(0,-445.6)">Binding energy / eV</text>
<text x="0" y="0" font-size="28.8" text-anchor="middle" transform="translate(23.4,194.30) rotate(-90) scale(1,1.04)">Intensity / arbitrary units</text>
<text x="0" y="0" font-size="26.3" text-anchor="middle" transform="translate(630.2,101.00) rotate(90) scale(1,1.02)">as prepared</text>
<text x="0" y="0" font-size="26.2" text-anchor="middle" transform="translate(633.8,284.00) rotate(90) scale(1,1.03)">28 days</text>
</svg>
</body></html>
